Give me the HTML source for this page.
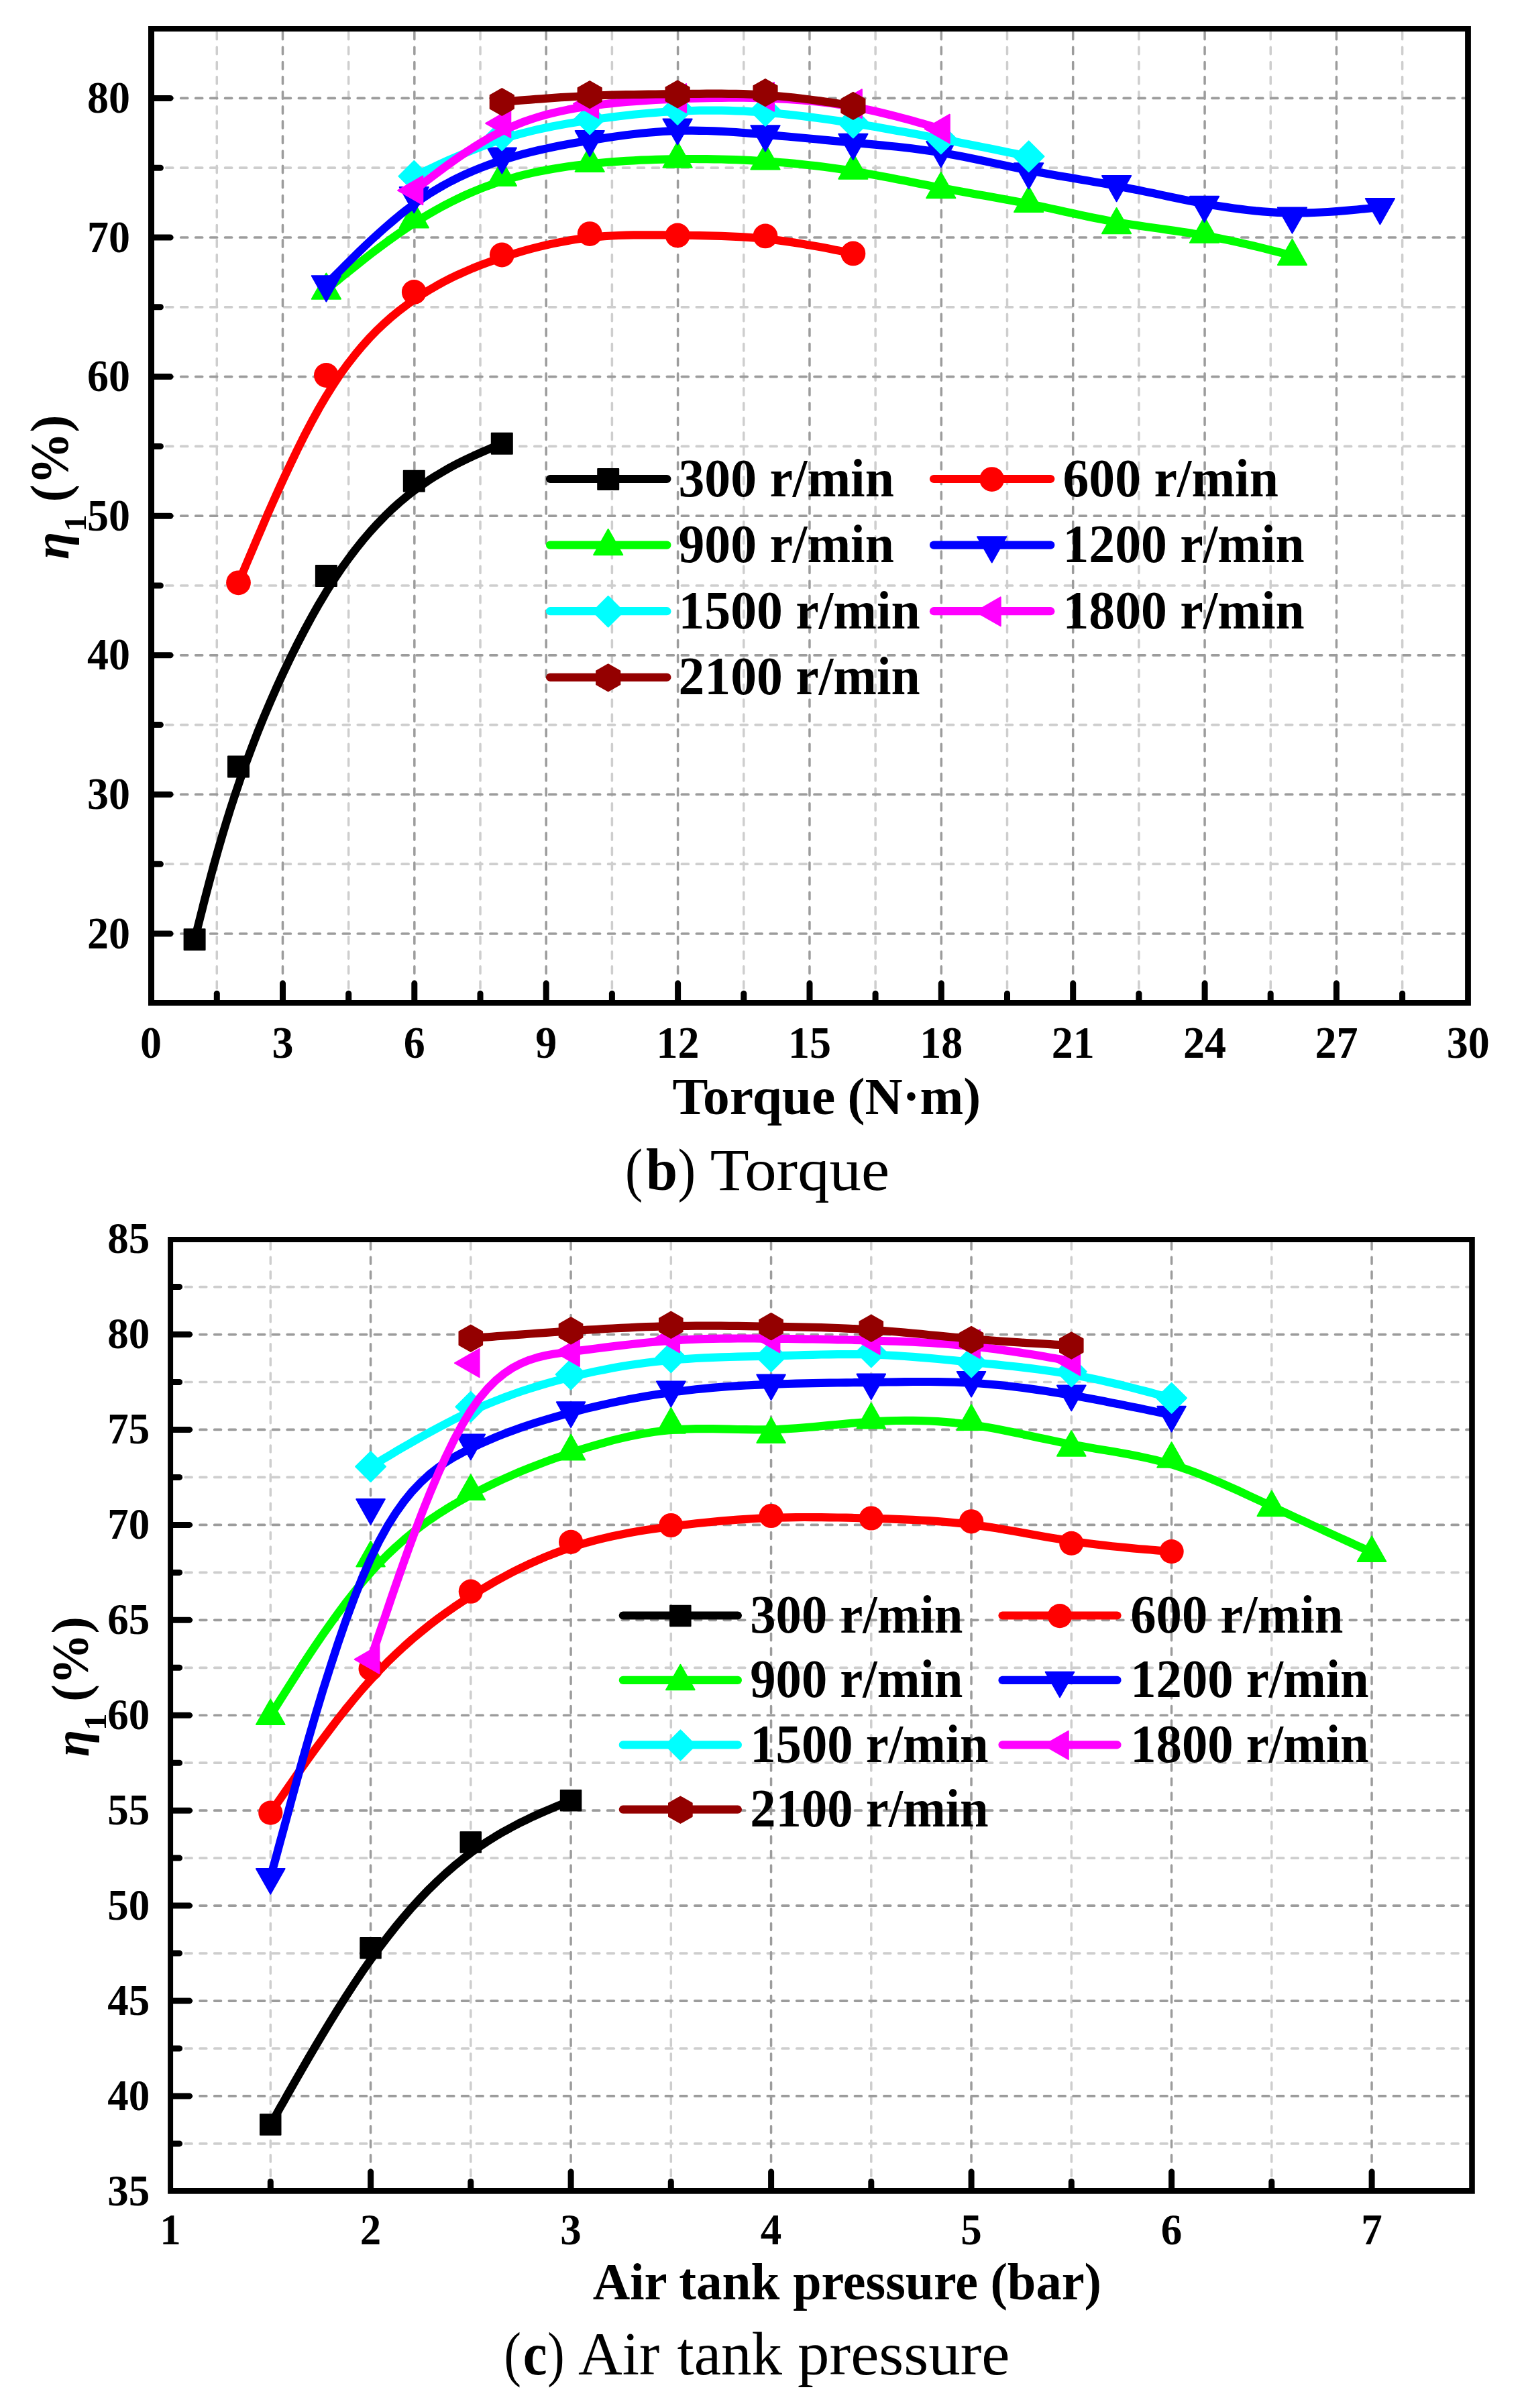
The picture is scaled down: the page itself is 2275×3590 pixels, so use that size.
<!DOCTYPE html>
<html><head><meta charset="utf-8"><title>Figure</title>
<style>
html,body{margin:0;padding:0;background:#fff}
svg{display:block}
text{font-family:"Liberation Serif",serif;fill:#000}
.tk{font-size:64px;font-weight:bold}
.lg{font-size:75px;font-weight:bold}
.ti{font-size:75px;font-weight:bold}
.cp{font-size:87px}
</style></head><body>
<svg width="2275" height="3590" viewBox="0 0 2275 3590">
<rect width="2275" height="3590" fill="#fff"/>
<path d="M225.80,1288.20H2188.80" stroke="#cecece" stroke-width="3.7" stroke-dasharray="10.00 11.96" stroke-linecap="round" fill="none"/>
<path d="M225.80,1080.60H2188.80" stroke="#cecece" stroke-width="3.7" stroke-dasharray="10.00 11.96" stroke-linecap="round" fill="none"/>
<path d="M225.80,873.00H2188.80" stroke="#cecece" stroke-width="3.7" stroke-dasharray="10.00 11.96" stroke-linecap="round" fill="none"/>
<path d="M225.80,665.40H2188.80" stroke="#cecece" stroke-width="3.7" stroke-dasharray="10.00 11.96" stroke-linecap="round" fill="none"/>
<path d="M225.80,457.80H2188.80" stroke="#cecece" stroke-width="3.7" stroke-dasharray="10.00 11.96" stroke-linecap="round" fill="none"/>
<path d="M225.80,250.20H2188.80" stroke="#cecece" stroke-width="3.7" stroke-dasharray="10.00 11.96" stroke-linecap="round" fill="none"/>
<path d="M323.28,1495.50V42.60" stroke="#cecece" stroke-width="3.5" stroke-dasharray="10.500 11.604" stroke-linecap="round" fill="none"/>
<path d="M519.66,1495.50V42.60" stroke="#cecece" stroke-width="3.5" stroke-dasharray="10.500 11.604" stroke-linecap="round" fill="none"/>
<path d="M716.03,1495.50V42.60" stroke="#cecece" stroke-width="3.5" stroke-dasharray="10.500 11.604" stroke-linecap="round" fill="none"/>
<path d="M912.40,1495.50V42.60" stroke="#cecece" stroke-width="3.5" stroke-dasharray="10.500 11.604" stroke-linecap="round" fill="none"/>
<path d="M1108.77,1495.50V42.60" stroke="#cecece" stroke-width="3.5" stroke-dasharray="10.500 11.604" stroke-linecap="round" fill="none"/>
<path d="M1305.13,1495.50V42.60" stroke="#cecece" stroke-width="3.5" stroke-dasharray="10.500 11.604" stroke-linecap="round" fill="none"/>
<path d="M1501.51,1495.50V42.60" stroke="#cecece" stroke-width="3.5" stroke-dasharray="10.500 11.604" stroke-linecap="round" fill="none"/>
<path d="M1697.88,1495.50V42.60" stroke="#cecece" stroke-width="3.5" stroke-dasharray="10.500 11.604" stroke-linecap="round" fill="none"/>
<path d="M1894.25,1495.50V42.60" stroke="#cecece" stroke-width="3.5" stroke-dasharray="10.500 11.604" stroke-linecap="round" fill="none"/>
<path d="M2090.62,1495.50V42.60" stroke="#cecece" stroke-width="3.5" stroke-dasharray="10.500 11.604" stroke-linecap="round" fill="none"/>
<path d="M225.80,1392.00H2188.80" stroke="#9c9c9c" stroke-width="3.7" stroke-dasharray="10.00 11.96" stroke-linecap="round" fill="none"/>
<path d="M225.80,1184.40H2188.80" stroke="#9c9c9c" stroke-width="3.7" stroke-dasharray="10.00 11.96" stroke-linecap="round" fill="none"/>
<path d="M225.80,976.80H2188.80" stroke="#9c9c9c" stroke-width="3.7" stroke-dasharray="10.00 11.96" stroke-linecap="round" fill="none"/>
<path d="M225.80,769.20H2188.80" stroke="#9c9c9c" stroke-width="3.7" stroke-dasharray="10.00 11.96" stroke-linecap="round" fill="none"/>
<path d="M225.80,561.60H2188.80" stroke="#9c9c9c" stroke-width="3.7" stroke-dasharray="10.00 11.96" stroke-linecap="round" fill="none"/>
<path d="M225.80,354.00H2188.80" stroke="#9c9c9c" stroke-width="3.7" stroke-dasharray="10.00 11.96" stroke-linecap="round" fill="none"/>
<path d="M225.80,146.40H2188.80" stroke="#9c9c9c" stroke-width="3.7" stroke-dasharray="10.00 11.96" stroke-linecap="round" fill="none"/>
<path d="M421.47,1495.50V42.60" stroke="#9c9c9c" stroke-width="3.5" stroke-dasharray="10.500 11.604" stroke-linecap="round" fill="none"/>
<path d="M617.84,1495.50V42.60" stroke="#9c9c9c" stroke-width="3.5" stroke-dasharray="10.500 11.604" stroke-linecap="round" fill="none"/>
<path d="M814.21,1495.50V42.60" stroke="#9c9c9c" stroke-width="3.5" stroke-dasharray="10.500 11.604" stroke-linecap="round" fill="none"/>
<path d="M1010.58,1495.50V42.60" stroke="#9c9c9c" stroke-width="3.5" stroke-dasharray="10.500 11.604" stroke-linecap="round" fill="none"/>
<path d="M1206.95,1495.50V42.60" stroke="#9c9c9c" stroke-width="3.5" stroke-dasharray="10.500 11.604" stroke-linecap="round" fill="none"/>
<path d="M1403.32,1495.50V42.60" stroke="#9c9c9c" stroke-width="3.5" stroke-dasharray="10.500 11.604" stroke-linecap="round" fill="none"/>
<path d="M1599.69,1495.50V42.60" stroke="#9c9c9c" stroke-width="3.5" stroke-dasharray="10.500 11.604" stroke-linecap="round" fill="none"/>
<path d="M1796.06,1495.50V42.60" stroke="#9c9c9c" stroke-width="3.5" stroke-dasharray="10.500 11.604" stroke-linecap="round" fill="none"/>
<path d="M1992.43,1495.50V42.60" stroke="#9c9c9c" stroke-width="3.5" stroke-dasharray="10.500 11.604" stroke-linecap="round" fill="none"/>
<path d="M227.1,1392.0H253.9" stroke="#000" stroke-width="9.0" stroke-linecap="round"/>
<path d="M227.1,1184.4H253.9" stroke="#000" stroke-width="9.0" stroke-linecap="round"/>
<path d="M227.1,976.8H253.9" stroke="#000" stroke-width="9.0" stroke-linecap="round"/>
<path d="M227.1,769.2H253.9" stroke="#000" stroke-width="9.0" stroke-linecap="round"/>
<path d="M227.1,561.6H253.9" stroke="#000" stroke-width="9.0" stroke-linecap="round"/>
<path d="M227.1,354.0H253.9" stroke="#000" stroke-width="9.0" stroke-linecap="round"/>
<path d="M227.1,146.4H253.9" stroke="#000" stroke-width="9.0" stroke-linecap="round"/>
<path d="M227.1,1288.2H239.4" stroke="#000" stroke-width="9.0" stroke-linecap="round"/>
<path d="M227.1,1080.6H239.4" stroke="#000" stroke-width="9.0" stroke-linecap="round"/>
<path d="M227.1,873.0H239.4" stroke="#000" stroke-width="9.0" stroke-linecap="round"/>
<path d="M227.1,665.4H239.4" stroke="#000" stroke-width="9.0" stroke-linecap="round"/>
<path d="M227.1,457.8H239.4" stroke="#000" stroke-width="9.0" stroke-linecap="round"/>
<path d="M227.1,250.2H239.4" stroke="#000" stroke-width="9.0" stroke-linecap="round"/>
<path d="M421.5,1493.3V1466.1" stroke="#000" stroke-width="9.0" stroke-linecap="round"/>
<path d="M617.8,1493.3V1466.1" stroke="#000" stroke-width="9.0" stroke-linecap="round"/>
<path d="M814.2,1493.3V1466.1" stroke="#000" stroke-width="9.0" stroke-linecap="round"/>
<path d="M1010.6,1493.3V1466.1" stroke="#000" stroke-width="9.0" stroke-linecap="round"/>
<path d="M1207.0,1493.3V1466.1" stroke="#000" stroke-width="9.0" stroke-linecap="round"/>
<path d="M1403.3,1493.3V1466.1" stroke="#000" stroke-width="9.0" stroke-linecap="round"/>
<path d="M1599.7,1493.3V1466.1" stroke="#000" stroke-width="9.0" stroke-linecap="round"/>
<path d="M1796.1,1493.3V1466.1" stroke="#000" stroke-width="9.0" stroke-linecap="round"/>
<path d="M1992.4,1493.3V1466.1" stroke="#000" stroke-width="9.0" stroke-linecap="round"/>
<path d="M323.3,1493.3V1481.3" stroke="#000" stroke-width="9.0" stroke-linecap="round"/>
<path d="M519.7,1493.3V1481.3" stroke="#000" stroke-width="9.0" stroke-linecap="round"/>
<path d="M716.0,1493.3V1481.3" stroke="#000" stroke-width="9.0" stroke-linecap="round"/>
<path d="M912.4,1493.3V1481.3" stroke="#000" stroke-width="9.0" stroke-linecap="round"/>
<path d="M1108.8,1493.3V1481.3" stroke="#000" stroke-width="9.0" stroke-linecap="round"/>
<path d="M1305.1,1493.3V1481.3" stroke="#000" stroke-width="9.0" stroke-linecap="round"/>
<path d="M1501.5,1493.3V1481.3" stroke="#000" stroke-width="9.0" stroke-linecap="round"/>
<path d="M1697.9,1493.3V1481.3" stroke="#000" stroke-width="9.0" stroke-linecap="round"/>
<path d="M1894.2,1493.3V1481.3" stroke="#000" stroke-width="9.0" stroke-linecap="round"/>
<path d="M2090.6,1493.3V1481.3" stroke="#000" stroke-width="9.0" stroke-linecap="round"/>
<path d="M221.00,38.90H2192.90V1499.60H221.00Z M230.00,46.90H2184.10V1491.00H230.00Z" fill="#000" fill-rule="evenodd"/>
<text transform="translate(225.1,1577.0) scale(1.000,1.060)" class="tk" text-anchor="middle">0</text>
<text transform="translate(421.5,1577.0) scale(1.000,1.060)" class="tk" text-anchor="middle">3</text>
<text transform="translate(617.8,1577.0) scale(1.000,1.060)" class="tk" text-anchor="middle">6</text>
<text transform="translate(814.2,1577.0) scale(1.000,1.060)" class="tk" text-anchor="middle">9</text>
<text transform="translate(1010.6,1577.0) scale(1.000,1.060)" class="tk" text-anchor="middle">12</text>
<text transform="translate(1207.0,1577.0) scale(1.000,1.060)" class="tk" text-anchor="middle">15</text>
<text transform="translate(1403.3,1577.0) scale(1.000,1.060)" class="tk" text-anchor="middle">18</text>
<text transform="translate(1599.7,1577.0) scale(1.000,1.060)" class="tk" text-anchor="middle">21</text>
<text transform="translate(1796.1,1577.0) scale(1.000,1.060)" class="tk" text-anchor="middle">24</text>
<text transform="translate(1992.4,1577.0) scale(1.000,1.060)" class="tk" text-anchor="middle">27</text>
<text transform="translate(2188.8,1577.0) scale(1.000,1.060)" class="tk" text-anchor="middle">30</text>
<text transform="translate(194.0,1413.6) scale(1.000,1.060)" class="tk" text-anchor="end">20</text>
<text transform="translate(194.0,1206.0) scale(1.000,1.060)" class="tk" text-anchor="end">30</text>
<text transform="translate(194.0,998.4) scale(1.000,1.060)" class="tk" text-anchor="end">40</text>
<text transform="translate(194.0,790.8) scale(1.000,1.060)" class="tk" text-anchor="end">50</text>
<text transform="translate(194.0,583.2) scale(1.000,1.060)" class="tk" text-anchor="end">60</text>
<text transform="translate(194.0,375.6) scale(1.000,1.060)" class="tk" text-anchor="end">70</text>
<text transform="translate(194.0,168.0) scale(1.000,1.060)" class="tk" text-anchor="end">80</text>
<path d="M290.1,1400.7 L290.1,1400.7 L290.1,1400.5 L290.2,1400.0 L290.5,1399.1 L290.8,1397.6 L291.4,1395.3 L292.2,1392.2 L293.3,1388.0 L294.7,1382.6 L296.4,1375.9 L298.5,1367.6 L301.0,1357.7 L303.9,1346.1 L307.3,1332.9 L311.2,1318.1 L315.5,1301.9 L320.3,1284.4 L325.5,1265.9 L331.2,1246.3 L337.3,1225.9 L343.9,1204.8 L351.0,1183.1 L358.5,1160.9 L366.4,1138.5 L374.8,1115.8 L383.6,1093.0 L392.8,1070.3 L402.4,1047.6 L412.2,1025.2 L422.3,1003.1 L432.7,981.4 L443.2,960.2 L453.9,939.6 L464.7,919.7 L475.5,900.6 L486.4,882.3 L497.3,865.1 L508.2,848.8 L519.2,833.5 L530.1,819.0 L541.0,805.4 L551.9,792.6 L562.8,780.7 L573.7,769.4 L584.6,758.9 L595.5,749.1 L606.4,740.0 L617.3,731.5 L628.2,723.6 L639.1,716.2 L649.7,709.4 L660.2,703.2 L670.3,697.4 L680.1,692.2 L689.4,687.5 L698.2,683.2 L706.3,679.4 L713.8,676.1 L720.5,673.1 L726.4,670.6 L731.4,668.4 L735.6,666.7 L739.0,665.2 L741.8,664.0 L743.9,663.1 L745.5,662.4 L746.7,661.9 L747.4,661.6 L747.9,661.4 L748.2,661.3 L748.2,661.3 L748.3,661.2" fill="none" stroke="#000000" stroke-width="12.2" stroke-linecap="round" stroke-linejoin="round"/>
<rect x="274.6" y="1385.2" width="31.0" height="31.0" fill="#000000" stroke="#000000" stroke-width="2" stroke-linejoin="round"/>
<rect x="340.0" y="1127.4" width="31.0" height="31.0" fill="#000000" stroke="#000000" stroke-width="2" stroke-linejoin="round"/>
<rect x="470.9" y="843.0" width="31.0" height="31.0" fill="#000000" stroke="#000000" stroke-width="2" stroke-linejoin="round"/>
<rect x="601.8" y="701.8" width="31.0" height="31.0" fill="#000000" stroke="#000000" stroke-width="2" stroke-linejoin="round"/>
<rect x="732.8" y="645.7" width="31.0" height="31.0" fill="#000000" stroke="#000000" stroke-width="2" stroke-linejoin="round"/>
<path d="M355.5,868.8 L355.5,868.8 L355.6,868.6 L355.9,868.0 L356.3,866.9 L357.1,865.1 L358.2,862.4 L359.8,858.6 L362.0,853.6 L364.7,847.1 L368.1,839.0 L372.3,829.1 L377.3,817.3 L383.2,803.4 L390.0,787.6 L397.4,770.2 L405.6,751.6 L414.4,732.0 L423.7,711.6 L433.5,690.8 L443.6,669.9 L454.0,649.1 L464.7,628.7 L475.5,609.0 L486.4,590.4 L497.3,573.0 L508.2,556.7 L519.2,541.7 L530.1,527.7 L541.0,514.8 L551.9,502.7 L562.8,491.6 L573.7,481.3 L584.6,471.7 L595.5,462.8 L606.4,454.6 L617.3,446.8 L628.2,439.6 L639.2,432.8 L650.1,426.4 L661.0,420.4 L671.9,414.8 L682.8,409.6 L693.7,404.7 L704.6,400.0 L715.5,395.7 L726.4,391.6 L737.3,387.7 L748.3,384.0 L759.2,380.4 L770.1,377.1 L781.0,373.9 L791.9,370.9 L802.8,368.1 L813.7,365.5 L824.6,363.1 L835.5,360.9 L846.4,358.9 L857.3,357.1 L868.3,355.5 L879.2,354.2 L890.1,353.1 L901.0,352.2 L911.9,351.5 L922.8,351.0 L933.7,350.7 L944.6,350.4 L955.5,350.3 L966.4,350.3 L977.4,350.3 L988.3,350.4 L999.2,350.5 L1010.1,350.7 L1021.0,350.8 L1031.9,351.0 L1042.8,351.1 L1053.7,351.3 L1064.6,351.6 L1075.5,351.9 L1086.4,352.3 L1097.4,352.8 L1108.3,353.4 L1119.2,354.2 L1130.1,355.0 L1141.0,356.1 L1151.9,357.3 L1162.7,358.6 L1173.4,360.1 L1183.8,361.6 L1194.0,363.2 L1203.7,364.9 L1213.0,366.5 L1221.8,368.1 L1230.0,369.6 L1237.5,371.1 L1244.2,372.4 L1250.1,373.5 L1255.1,374.5 L1259.3,375.4 L1262.7,376.0 L1265.4,376.6 L1267.6,377.0 L1269.2,377.3 L1270.3,377.6 L1271.1,377.7 L1271.6,377.8 L1271.8,377.9 L1271.9,377.9 L1271.9,377.9" fill="none" stroke="#ff0000" stroke-width="12.2" stroke-linecap="round" stroke-linejoin="round"/>
<circle cx="355.5" cy="868.8" r="18.4" fill="#ff0000"/>
<circle cx="486.4" cy="559.5" r="18.4" fill="#ff0000"/>
<circle cx="617.3" cy="435.4" r="18.4" fill="#ff0000"/>
<circle cx="748.3" cy="380.0" r="18.4" fill="#ff0000"/>
<circle cx="879.2" cy="348.6" r="18.4" fill="#ff0000"/>
<circle cx="1010.1" cy="350.9" r="18.4" fill="#ff0000"/>
<circle cx="1141.0" cy="351.9" r="18.4" fill="#ff0000"/>
<circle cx="1271.9" cy="377.9" r="18.4" fill="#ff0000"/>
<path d="M486.4,431.8 L486.4,431.8 L486.5,431.8 L486.8,431.6 L487.2,431.2 L488.0,430.6 L489.2,429.6 L490.8,428.3 L492.9,426.6 L495.6,424.4 L499.1,421.6 L503.2,418.2 L508.2,414.1 L514.1,409.3 L520.9,403.9 L528.4,397.9 L536.5,391.4 L545.3,384.5 L554.6,377.3 L564.4,369.9 L574.5,362.4 L585.0,354.8 L595.6,347.3 L606.4,339.9 L617.3,332.7 L628.2,325.8 L639.2,319.3 L650.1,313.0 L661.0,307.0 L671.9,301.4 L682.8,296.0 L693.7,290.9 L704.6,286.1 L715.5,281.6 L726.4,277.4 L737.3,273.5 L748.3,269.9 L759.2,266.6 L770.1,263.5 L781.0,260.7 L791.9,258.1 L802.8,255.8 L813.7,253.7 L824.6,251.7 L835.5,249.9 L846.4,248.3 L857.3,246.9 L868.3,245.6 L879.2,244.4 L890.1,243.3 L901.0,242.3 L911.9,241.4 L922.8,240.6 L933.7,239.9 L944.6,239.3 L955.5,238.7 L966.4,238.3 L977.4,237.9 L988.3,237.6 L999.2,237.4 L1010.1,237.2 L1021.0,237.1 L1031.9,237.0 L1042.8,237.1 L1053.7,237.2 L1064.6,237.3 L1075.5,237.5 L1086.4,237.8 L1097.4,238.2 L1108.3,238.7 L1119.2,239.2 L1130.1,239.8 L1141.0,240.4 L1151.9,241.2 L1162.8,242.0 L1173.7,242.9 L1184.6,243.9 L1195.5,245.0 L1206.5,246.2 L1217.4,247.4 L1228.3,248.8 L1239.2,250.2 L1250.1,251.7 L1261.0,253.4 L1271.9,255.1 L1282.8,256.9 L1293.7,258.9 L1304.6,260.9 L1315.5,262.9 L1326.5,265.0 L1337.4,267.2 L1348.3,269.3 L1359.2,271.5 L1370.1,273.7 L1381.0,275.8 L1391.9,277.9 L1402.8,280.0 L1413.7,282.1 L1424.6,284.0 L1435.5,286.0 L1446.5,287.9 L1457.4,289.9 L1468.3,291.8 L1479.2,293.7 L1490.1,295.7 L1501.0,297.7 L1511.9,299.7 L1522.8,301.8 L1533.7,304.0 L1544.6,306.2 L1555.6,308.5 L1566.5,310.9 L1577.4,313.3 L1588.3,315.7 L1599.2,318.0 L1610.1,320.4 L1621.0,322.7 L1631.9,324.9 L1642.8,327.1 L1653.7,329.2 L1664.6,331.2 L1675.6,333.0 L1686.5,334.7 L1697.4,336.4 L1708.3,338.0 L1719.2,339.5 L1730.1,341.0 L1741.0,342.6 L1751.9,344.1 L1762.8,345.7 L1773.7,347.4 L1784.7,349.2 L1795.6,351.1 L1806.5,353.1 L1817.3,355.2 L1827.9,357.4 L1838.4,359.6 L1848.5,361.9 L1858.3,364.1 L1867.6,366.3 L1876.4,368.4 L1884.5,370.4 L1892.0,372.3 L1898.8,374.0 L1904.7,375.5 L1909.7,376.7 L1913.8,377.8 L1917.3,378.7 L1920.0,379.3 L1922.1,379.9 L1923.7,380.3 L1924.9,380.6 L1925.7,380.8 L1926.1,380.9 L1926.4,381.0 L1926.5,381.0 L1926.5,381.0" fill="none" stroke="#00ff00" stroke-width="12.2" stroke-linecap="round" stroke-linejoin="round"/>
<polygon points="486.4,407.6 464.8,445.8 508.0,445.8" fill="#00ff00" stroke="#00ff00" stroke-width="2" stroke-linejoin="round"/>
<polygon points="617.3,301.2 595.7,339.4 638.9,339.4" fill="#00ff00" stroke="#00ff00" stroke-width="2" stroke-linejoin="round"/>
<polygon points="748.3,238.9 726.7,277.1 769.9,277.1" fill="#00ff00" stroke="#00ff00" stroke-width="2" stroke-linejoin="round"/>
<polygon points="879.2,217.7 857.6,255.9 900.8,255.9" fill="#00ff00" stroke="#00ff00" stroke-width="2" stroke-linejoin="round"/>
<polygon points="1010.1,211.5 988.5,249.7 1031.7,249.7" fill="#00ff00" stroke="#00ff00" stroke-width="2" stroke-linejoin="round"/>
<polygon points="1141.0,214.4 1119.4,252.6 1162.6,252.6" fill="#00ff00" stroke="#00ff00" stroke-width="2" stroke-linejoin="round"/>
<polygon points="1271.9,228.5 1250.3,266.7 1293.5,266.7" fill="#00ff00" stroke="#00ff00" stroke-width="2" stroke-linejoin="round"/>
<polygon points="1402.8,257.1 1381.2,295.3 1424.4,295.3" fill="#00ff00" stroke="#00ff00" stroke-width="2" stroke-linejoin="round"/>
<polygon points="1533.7,277.9 1512.1,316.1 1555.3,316.1" fill="#00ff00" stroke="#00ff00" stroke-width="2" stroke-linejoin="round"/>
<polygon points="1664.6,310.1 1643.0,348.3 1686.2,348.3" fill="#00ff00" stroke="#00ff00" stroke-width="2" stroke-linejoin="round"/>
<polygon points="1795.6,323.6 1774.0,361.8 1817.2,361.8" fill="#00ff00" stroke="#00ff00" stroke-width="2" stroke-linejoin="round"/>
<polygon points="1926.5,356.8 1904.9,395.0 1948.1,395.0" fill="#00ff00" stroke="#00ff00" stroke-width="2" stroke-linejoin="round"/>
<path d="M486.4,424.2 L486.4,424.2 L486.5,424.1 L486.8,423.8 L487.2,423.4 L488.0,422.6 L489.2,421.4 L490.8,419.8 L492.9,417.6 L495.6,414.9 L499.1,411.4 L503.2,407.2 L508.2,402.2 L514.1,396.2 L520.9,389.5 L528.4,382.1 L536.5,374.1 L545.3,365.7 L554.6,356.9 L564.4,348.0 L574.5,339.0 L585.0,330.0 L595.6,321.1 L606.4,312.5 L617.3,304.3 L628.2,296.7 L639.2,289.4 L650.1,282.7 L661.0,276.4 L671.9,270.5 L682.8,265.0 L693.7,259.9 L704.6,255.1 L715.5,250.6 L726.4,246.5 L737.3,242.6 L748.3,239.0 L759.2,235.6 L770.1,232.4 L781.0,229.4 L791.9,226.6 L802.8,224.0 L813.7,221.6 L824.6,219.3 L835.5,217.1 L846.4,215.0 L857.3,213.0 L868.3,211.2 L879.2,209.3 L890.1,207.6 L901.0,205.9 L911.9,204.3 L922.8,202.7 L933.7,201.3 L944.6,200.0 L955.5,198.8 L966.4,197.7 L977.4,196.8 L988.3,196.0 L999.2,195.4 L1010.1,195.0 L1021.0,194.7 L1031.9,194.7 L1042.8,194.8 L1053.7,195.0 L1064.6,195.4 L1075.5,195.9 L1086.4,196.5 L1097.4,197.2 L1108.3,198.0 L1119.2,198.8 L1130.1,199.7 L1141.0,200.7 L1151.9,201.6 L1162.8,202.6 L1173.7,203.5 L1184.6,204.5 L1195.5,205.5 L1206.5,206.5 L1217.4,207.5 L1228.3,208.6 L1239.2,209.6 L1250.1,210.6 L1261.0,211.6 L1271.9,212.6 L1282.8,213.6 L1293.7,214.6 L1304.6,215.6 L1315.5,216.6 L1326.5,217.7 L1337.4,218.8 L1348.3,220.0 L1359.2,221.3 L1370.1,222.7 L1381.0,224.2 L1391.9,225.8 L1402.8,227.5 L1413.7,229.4 L1424.6,231.4 L1435.5,233.5 L1446.5,235.7 L1457.4,238.0 L1468.3,240.3 L1479.2,242.6 L1490.1,245.0 L1501.0,247.3 L1511.9,249.6 L1522.8,251.8 L1533.7,254.0 L1544.6,256.1 L1555.6,258.1 L1566.5,260.0 L1577.4,261.9 L1588.3,263.8 L1599.2,265.6 L1610.1,267.5 L1621.0,269.3 L1631.9,271.2 L1642.8,273.1 L1653.7,275.1 L1664.6,277.1 L1675.6,279.2 L1686.5,281.4 L1697.4,283.6 L1708.3,285.9 L1719.2,288.1 L1730.1,290.4 L1741.0,292.7 L1751.9,295.0 L1762.8,297.2 L1773.7,299.4 L1784.7,301.5 L1795.6,303.5 L1806.5,305.4 L1817.4,307.2 L1828.3,308.9 L1839.2,310.5 L1850.1,311.9 L1861.0,313.2 L1871.9,314.4 L1882.8,315.3 L1893.7,316.1 L1904.7,316.8 L1915.6,317.2 L1926.5,317.4 L1937.4,317.5 L1948.2,317.3 L1958.9,317.0 L1969.3,316.5 L1979.4,316.0 L1989.2,315.4 L1998.5,314.7 L2007.3,313.9 L2015.5,313.2 L2022.9,312.5 L2029.7,311.8 L2035.6,311.2 L2040.6,310.7 L2044.8,310.3 L2048.2,309.9 L2050.9,309.6 L2053.1,309.4 L2054.7,309.2 L2055.8,309.1 L2056.6,309.0 L2057.0,309.0 L2057.3,309.0 L2057.4,309.0 L2057.4,309.0" fill="none" stroke="#0000ff" stroke-width="12.2" stroke-linecap="round" stroke-linejoin="round"/>
<polygon points="486.4,449.4 464.8,411.2 508.0,411.2" fill="#0000ff" stroke="#0000ff" stroke-width="2" stroke-linejoin="round"/>
<polygon points="617.3,317.3 595.7,279.1 638.9,279.1" fill="#0000ff" stroke="#0000ff" stroke-width="2" stroke-linejoin="round"/>
<polygon points="748.3,258.6 726.7,220.4 769.9,220.4" fill="#0000ff" stroke="#0000ff" stroke-width="2" stroke-linejoin="round"/>
<polygon points="879.2,233.3 857.6,195.1 900.8,195.1" fill="#0000ff" stroke="#0000ff" stroke-width="2" stroke-linejoin="round"/>
<polygon points="1010.1,215.6 988.5,177.4 1031.7,177.4" fill="#0000ff" stroke="#0000ff" stroke-width="2" stroke-linejoin="round"/>
<polygon points="1141.0,225.4 1119.4,187.2 1162.6,187.2" fill="#0000ff" stroke="#0000ff" stroke-width="2" stroke-linejoin="round"/>
<polygon points="1271.9,238.0 1250.3,199.8 1293.5,199.8" fill="#0000ff" stroke="#0000ff" stroke-width="2" stroke-linejoin="round"/>
<polygon points="1402.8,249.2 1381.2,211.0 1424.4,211.0" fill="#0000ff" stroke="#0000ff" stroke-width="2" stroke-linejoin="round"/>
<polygon points="1533.7,281.4 1512.1,243.2 1555.3,243.2" fill="#0000ff" stroke="#0000ff" stroke-width="2" stroke-linejoin="round"/>
<polygon points="1664.6,300.3 1643.0,262.1 1686.2,262.1" fill="#0000ff" stroke="#0000ff" stroke-width="2" stroke-linejoin="round"/>
<polygon points="1795.6,331.0 1774.0,292.8 1817.2,292.8" fill="#0000ff" stroke="#0000ff" stroke-width="2" stroke-linejoin="round"/>
<polygon points="1926.5,347.6 1904.9,309.4 1948.1,309.4" fill="#0000ff" stroke="#0000ff" stroke-width="2" stroke-linejoin="round"/>
<polygon points="2057.4,334.2 2035.8,296.0 2079.0,296.0" fill="#0000ff" stroke="#0000ff" stroke-width="2" stroke-linejoin="round"/>
<path d="M617.3,262.7 L617.4,262.7 L617.4,262.6 L617.7,262.5 L618.1,262.3 L618.9,261.9 L620.1,261.4 L621.7,260.6 L623.8,259.6 L626.5,258.3 L630.0,256.7 L634.1,254.8 L639.2,252.4 L645.1,249.7 L651.8,246.6 L659.3,243.1 L667.4,239.4 L676.2,235.6 L685.5,231.5 L695.3,227.4 L705.4,223.3 L715.9,219.2 L726.5,215.2 L737.4,211.3 L748.3,207.6 L759.2,204.2 L770.1,201.0 L781.0,198.1 L791.9,195.4 L802.8,192.8 L813.7,190.5 L824.6,188.2 L835.5,186.2 L846.4,184.3 L857.3,182.4 L868.3,180.7 L879.2,179.1 L890.1,177.5 L901.0,176.0 L911.9,174.6 L922.8,173.3 L933.7,172.0 L944.6,170.8 L955.5,169.7 L966.4,168.7 L977.4,167.8 L988.3,167.0 L999.2,166.4 L1010.1,165.8 L1021.0,165.3 L1031.9,165.0 L1042.8,164.7 L1053.7,164.6 L1064.6,164.6 L1075.5,164.7 L1086.4,164.9 L1097.4,165.3 L1108.3,165.7 L1119.2,166.3 L1130.1,166.9 L1141.0,167.7 L1151.9,168.6 L1162.8,169.5 L1173.7,170.6 L1184.6,171.8 L1195.5,173.0 L1206.5,174.4 L1217.4,175.8 L1228.3,177.3 L1239.2,178.8 L1250.1,180.4 L1261.0,182.1 L1271.9,183.8 L1282.8,185.5 L1293.7,187.3 L1304.6,189.1 L1315.5,191.0 L1326.5,192.9 L1337.4,194.9 L1348.3,196.8 L1359.2,198.8 L1370.1,200.8 L1381.0,202.9 L1391.9,205.0 L1402.8,207.1 L1413.7,209.2 L1424.5,211.3 L1435.2,213.4 L1445.6,215.4 L1455.8,217.4 L1465.5,219.4 L1474.9,221.3 L1483.6,223.0 L1491.8,224.7 L1499.3,226.2 L1506.0,227.6 L1511.9,228.7 L1516.9,229.8 L1521.1,230.6 L1524.5,231.3 L1527.3,231.9 L1529.4,232.3 L1531.0,232.6 L1532.2,232.9 L1532.9,233.0 L1533.4,233.1 L1533.6,233.2 L1533.7,233.2 L1533.7,233.2" fill="none" stroke="#00ffff" stroke-width="12.2" stroke-linecap="round" stroke-linejoin="round"/>
<polygon points="617.3,239.9 640.1,262.7 617.3,285.5 594.5,262.7" fill="#00ffff" stroke="#00ffff" stroke-width="2" stroke-linejoin="round"/>
<polygon points="748.3,178.6 771.1,201.4 748.3,224.2 725.5,201.4" fill="#00ffff" stroke="#00ffff" stroke-width="2" stroke-linejoin="round"/>
<polygon points="879.2,154.7 902.0,177.5 879.2,200.3 856.4,177.5" fill="#00ffff" stroke="#00ffff" stroke-width="2" stroke-linejoin="round"/>
<polygon points="1010.1,140.2 1032.9,163.0 1010.1,185.8 987.3,163.0" fill="#00ffff" stroke="#00ffff" stroke-width="2" stroke-linejoin="round"/>
<polygon points="1141.0,142.3 1163.8,165.1 1141.0,187.9 1118.2,165.1" fill="#00ffff" stroke="#00ffff" stroke-width="2" stroke-linejoin="round"/>
<polygon points="1271.9,159.9 1294.7,182.7 1271.9,205.5 1249.1,182.7" fill="#00ffff" stroke="#00ffff" stroke-width="2" stroke-linejoin="round"/>
<polygon points="1402.8,183.8 1425.6,206.6 1402.8,229.4 1380.0,206.6" fill="#00ffff" stroke="#00ffff" stroke-width="2" stroke-linejoin="round"/>
<polygon points="1533.7,210.4 1556.5,233.2 1533.7,256.0 1510.9,233.2" fill="#00ffff" stroke="#00ffff" stroke-width="2" stroke-linejoin="round"/>
<path d="M617.3,283.8 L617.4,283.8 L617.4,283.8 L617.7,283.6 L618.1,283.2 L618.9,282.6 L620.1,281.7 L621.7,280.5 L623.8,278.9 L626.5,276.8 L630.0,274.2 L634.1,271.0 L639.2,267.2 L645.1,262.7 L651.8,257.6 L659.3,252.0 L667.4,246.0 L676.2,239.7 L685.5,233.2 L695.3,226.6 L705.4,220.0 L715.9,213.5 L726.5,207.2 L737.4,201.2 L748.3,195.6 L759.2,190.5 L770.1,185.8 L781.0,181.5 L791.9,177.7 L802.8,174.3 L813.7,171.1 L824.6,168.4 L835.5,165.9 L846.4,163.6 L857.3,161.6 L868.3,159.8 L879.2,158.2 L890.1,156.7 L901.0,155.3 L911.9,154.1 L922.8,153.0 L933.7,152.0 L944.6,151.1 L955.5,150.3 L966.4,149.6 L977.4,149.0 L988.3,148.4 L999.2,147.9 L1010.1,147.4 L1021.0,147.0 L1031.9,146.7 L1042.8,146.4 L1053.7,146.1 L1064.6,145.9 L1075.5,145.8 L1086.4,145.7 L1097.4,145.7 L1108.3,145.7 L1119.2,145.9 L1130.1,146.1 L1141.0,146.4 L1151.9,146.8 L1162.8,147.3 L1173.7,147.9 L1184.6,148.6 L1195.5,149.4 L1206.5,150.3 L1217.4,151.4 L1228.3,152.7 L1239.2,154.0 L1250.1,155.6 L1261.0,157.3 L1271.9,159.2 L1282.8,161.3 L1293.6,163.5 L1304.3,165.8 L1314.7,168.3 L1324.9,170.7 L1334.6,173.2 L1343.9,175.6 L1352.7,177.9 L1360.9,180.2 L1368.4,182.3 L1375.1,184.2 L1381.0,185.8 L1386.0,187.3 L1390.2,188.5 L1393.6,189.4 L1396.4,190.2 L1398.5,190.8 L1400.1,191.3 L1401.2,191.6 L1402.0,191.8 L1402.5,192.0 L1402.7,192.0 L1402.8,192.1 L1402.8,192.1" fill="none" stroke="#ff00ff" stroke-width="12.2" stroke-linecap="round" stroke-linejoin="round"/>
<polygon points="593.1,283.8 630.3,262.4 630.3,305.2" fill="#ff00ff" stroke="#ff00ff" stroke-width="2" stroke-linejoin="round"/>
<polygon points="724.1,183.8 761.3,162.4 761.3,205.2" fill="#ff00ff" stroke="#ff00ff" stroke-width="2" stroke-linejoin="round"/>
<polygon points="855.0,154.7 892.2,133.3 892.2,176.1" fill="#ff00ff" stroke="#ff00ff" stroke-width="2" stroke-linejoin="round"/>
<polygon points="985.9,146.4 1023.1,125.0 1023.1,167.8" fill="#ff00ff" stroke="#ff00ff" stroke-width="2" stroke-linejoin="round"/>
<polygon points="1116.8,144.3 1154.0,122.9 1154.0,165.7" fill="#ff00ff" stroke="#ff00ff" stroke-width="2" stroke-linejoin="round"/>
<polygon points="1247.7,154.7 1284.9,133.3 1284.9,176.1" fill="#ff00ff" stroke="#ff00ff" stroke-width="2" stroke-linejoin="round"/>
<polygon points="1378.6,192.1 1415.8,170.7 1415.8,213.5" fill="#ff00ff" stroke="#ff00ff" stroke-width="2" stroke-linejoin="round"/>
<path d="M748.3,152.0 L748.3,152.0 L748.4,152.0 L748.6,152.0 L749.1,151.9 L749.8,151.9 L751.0,151.8 L752.6,151.6 L754.7,151.5 L757.5,151.2 L760.9,151.0 L765.1,150.6 L770.1,150.2 L776.0,149.7 L782.7,149.2 L790.2,148.6 L798.4,147.9 L807.1,147.3 L816.4,146.6 L826.2,145.9 L836.3,145.2 L846.8,144.6 L857.4,144.0 L868.3,143.4 L879.2,142.9 L890.1,142.4 L901.0,142.0 L911.9,141.7 L922.8,141.4 L933.7,141.2 L944.6,141.0 L955.5,140.8 L966.4,140.6 L977.4,140.5 L988.3,140.4 L999.2,140.3 L1010.1,140.1 L1021.0,140.0 L1031.9,139.9 L1042.8,139.8 L1053.7,139.7 L1064.6,139.6 L1075.5,139.7 L1086.4,139.8 L1097.4,139.9 L1108.3,140.2 L1119.2,140.6 L1130.1,141.1 L1141.0,141.8 L1151.9,142.6 L1162.7,143.5 L1173.4,144.5 L1183.8,145.6 L1194.0,146.8 L1203.7,148.0 L1213.0,149.2 L1221.8,150.4 L1230.0,151.6 L1237.5,152.6 L1244.2,153.6 L1250.1,154.5 L1255.1,155.3 L1259.3,155.9 L1262.7,156.4 L1265.4,156.8 L1267.6,157.2 L1269.2,157.4 L1270.3,157.6 L1271.1,157.7 L1271.6,157.8 L1271.8,157.8 L1271.9,157.8 L1271.9,157.8" fill="none" stroke="#940000" stroke-width="12.2" stroke-linecap="round" stroke-linejoin="round"/>
<polygon points="748.3,132.0 765.9,142.0 765.9,162.0 748.3,172.0 730.7,162.0 730.7,142.0" fill="#940000" stroke="#940000" stroke-width="2" stroke-linejoin="round"/>
<polygon points="879.2,121.2 896.8,131.2 896.8,151.2 879.2,161.2 861.6,151.2 861.6,131.2" fill="#940000" stroke="#940000" stroke-width="2" stroke-linejoin="round"/>
<polygon points="1010.1,120.4 1027.7,130.4 1027.7,150.4 1010.1,160.4 992.5,150.4 992.5,130.4" fill="#940000" stroke="#940000" stroke-width="2" stroke-linejoin="round"/>
<polygon points="1141.0,118.1 1158.6,128.1 1158.6,148.1 1141.0,158.1 1123.4,148.1 1123.4,128.1" fill="#940000" stroke="#940000" stroke-width="2" stroke-linejoin="round"/>
<polygon points="1271.9,137.8 1289.5,147.8 1289.5,167.8 1271.9,177.8 1254.3,167.8 1254.3,147.8" fill="#940000" stroke="#940000" stroke-width="2" stroke-linejoin="round"/>
<path d="M820.0,714.0H994.4" stroke="#000000" stroke-width="12.2" stroke-linecap="round"/>
<rect x="891.2" y="699.1" width="31.0" height="31.0" fill="#000000" stroke="#000000" stroke-width="2" stroke-linejoin="round"/>
<text transform="translate(1011.5,739.6) scale(1.0355,1.0600)" class="lg">300 r/min</text>
<path d="M1392.0,714.0H1566.3" stroke="#ff0000" stroke-width="12.2" stroke-linecap="round"/>
<circle cx="1478.7" cy="714.6" r="18.4" fill="#ff0000"/>
<text transform="translate(1584.5,739.6) scale(1.0355,1.0600)" class="lg">600 r/min</text>
<path d="M820.0,812.6H994.4" stroke="#00ff00" stroke-width="12.2" stroke-linecap="round"/>
<polygon points="906.7,789.0 885.1,827.2 928.3,827.2" fill="#00ff00" stroke="#00ff00" stroke-width="2" stroke-linejoin="round"/>
<text transform="translate(1011.5,838.2) scale(1.0355,1.0600)" class="lg">900 r/min</text>
<path d="M1392.0,812.6H1566.3" stroke="#0000ff" stroke-width="12.2" stroke-linecap="round"/>
<polygon points="1478.7,838.4 1457.1,800.2 1500.2,800.2" fill="#0000ff" stroke="#0000ff" stroke-width="2" stroke-linejoin="round"/>
<text transform="translate(1584.5,838.2) scale(1.0355,1.0600)" class="lg">1200 r/min</text>
<path d="M820.0,911.2H994.4" stroke="#00ffff" stroke-width="12.2" stroke-linecap="round"/>
<polygon points="906.7,889.0 929.5,911.8 906.7,934.6 883.9,911.8" fill="#00ffff" stroke="#00ffff" stroke-width="2" stroke-linejoin="round"/>
<text transform="translate(1011.5,936.8) scale(1.0355,1.0600)" class="lg">1500 r/min</text>
<path d="M1392.0,911.2H1566.3" stroke="#ff00ff" stroke-width="12.2" stroke-linecap="round"/>
<polygon points="1454.5,911.8 1491.7,890.4 1491.7,933.2" fill="#ff00ff" stroke="#ff00ff" stroke-width="2" stroke-linejoin="round"/>
<text transform="translate(1584.5,936.8) scale(1.0355,1.0600)" class="lg">1800 r/min</text>
<path d="M820.0,1009.8H994.4" stroke="#940000" stroke-width="12.2" stroke-linecap="round"/>
<polygon points="906.7,990.4 924.3,1000.4 924.3,1020.4 906.7,1030.4 889.1,1020.4 889.1,1000.4" fill="#940000" stroke="#940000" stroke-width="2" stroke-linejoin="round"/>
<text transform="translate(1011.5,1035.4) scale(1.0355,1.0600)" class="lg">2100 r/min</text>
<path d="M254.60,3195.93H2194.30" stroke="#cecece" stroke-width="3.7" stroke-dasharray="9.80 11.90" stroke-linecap="round" fill="none"/>
<path d="M254.60,3054.01H2194.30" stroke="#cecece" stroke-width="3.7" stroke-dasharray="9.80 11.90" stroke-linecap="round" fill="none"/>
<path d="M254.60,2912.07H2194.30" stroke="#cecece" stroke-width="3.7" stroke-dasharray="9.80 11.90" stroke-linecap="round" fill="none"/>
<path d="M254.60,2770.14H2194.30" stroke="#cecece" stroke-width="3.7" stroke-dasharray="9.80 11.90" stroke-linecap="round" fill="none"/>
<path d="M254.60,2628.22H2194.30" stroke="#cecece" stroke-width="3.7" stroke-dasharray="9.80 11.90" stroke-linecap="round" fill="none"/>
<path d="M254.60,2486.28H2194.30" stroke="#cecece" stroke-width="3.7" stroke-dasharray="9.80 11.90" stroke-linecap="round" fill="none"/>
<path d="M254.60,2344.36H2194.30" stroke="#cecece" stroke-width="3.7" stroke-dasharray="9.80 11.90" stroke-linecap="round" fill="none"/>
<path d="M254.60,2202.43H2194.30" stroke="#cecece" stroke-width="3.7" stroke-dasharray="9.80 11.90" stroke-linecap="round" fill="none"/>
<path d="M254.60,2060.49H2194.30" stroke="#cecece" stroke-width="3.7" stroke-dasharray="9.80 11.90" stroke-linecap="round" fill="none"/>
<path d="M254.60,1918.56H2194.30" stroke="#cecece" stroke-width="3.7" stroke-dasharray="9.80 11.90" stroke-linecap="round" fill="none"/>
<path d="M403.30,3266.10V1847.60" stroke="#cecece" stroke-width="3.5" stroke-dasharray="10.100 11.490" stroke-linecap="round" fill="none"/>
<path d="M701.80,3266.10V1847.60" stroke="#cecece" stroke-width="3.5" stroke-dasharray="10.100 11.490" stroke-linecap="round" fill="none"/>
<path d="M1000.30,3266.10V1847.60" stroke="#cecece" stroke-width="3.5" stroke-dasharray="10.100 11.490" stroke-linecap="round" fill="none"/>
<path d="M1298.80,3266.10V1847.60" stroke="#cecece" stroke-width="3.5" stroke-dasharray="10.100 11.490" stroke-linecap="round" fill="none"/>
<path d="M1597.30,3266.10V1847.60" stroke="#cecece" stroke-width="3.5" stroke-dasharray="10.100 11.490" stroke-linecap="round" fill="none"/>
<path d="M1895.80,3266.10V1847.60" stroke="#cecece" stroke-width="3.5" stroke-dasharray="10.100 11.490" stroke-linecap="round" fill="none"/>
<path d="M254.60,3124.97H2194.30" stroke="#9c9c9c" stroke-width="3.7" stroke-dasharray="9.80 11.90" stroke-linecap="round" fill="none"/>
<path d="M254.60,2983.04H2194.30" stroke="#9c9c9c" stroke-width="3.7" stroke-dasharray="9.80 11.90" stroke-linecap="round" fill="none"/>
<path d="M254.60,2841.11H2194.30" stroke="#9c9c9c" stroke-width="3.7" stroke-dasharray="9.80 11.90" stroke-linecap="round" fill="none"/>
<path d="M254.60,2699.18H2194.30" stroke="#9c9c9c" stroke-width="3.7" stroke-dasharray="9.80 11.90" stroke-linecap="round" fill="none"/>
<path d="M254.60,2557.25H2194.30" stroke="#9c9c9c" stroke-width="3.7" stroke-dasharray="9.80 11.90" stroke-linecap="round" fill="none"/>
<path d="M254.60,2415.32H2194.30" stroke="#9c9c9c" stroke-width="3.7" stroke-dasharray="9.80 11.90" stroke-linecap="round" fill="none"/>
<path d="M254.60,2273.39H2194.30" stroke="#9c9c9c" stroke-width="3.7" stroke-dasharray="9.80 11.90" stroke-linecap="round" fill="none"/>
<path d="M254.60,2131.46H2194.30" stroke="#9c9c9c" stroke-width="3.7" stroke-dasharray="9.80 11.90" stroke-linecap="round" fill="none"/>
<path d="M254.60,1989.53H2194.30" stroke="#9c9c9c" stroke-width="3.7" stroke-dasharray="9.80 11.90" stroke-linecap="round" fill="none"/>
<path d="M552.55,3266.10V1847.60" stroke="#9c9c9c" stroke-width="3.5" stroke-dasharray="10.100 11.490" stroke-linecap="round" fill="none"/>
<path d="M851.05,3266.10V1847.60" stroke="#9c9c9c" stroke-width="3.5" stroke-dasharray="10.100 11.490" stroke-linecap="round" fill="none"/>
<path d="M1149.55,3266.10V1847.60" stroke="#9c9c9c" stroke-width="3.5" stroke-dasharray="10.100 11.490" stroke-linecap="round" fill="none"/>
<path d="M1448.05,3266.10V1847.60" stroke="#9c9c9c" stroke-width="3.5" stroke-dasharray="10.100 11.490" stroke-linecap="round" fill="none"/>
<path d="M1746.55,3266.10V1847.60" stroke="#9c9c9c" stroke-width="3.5" stroke-dasharray="10.100 11.490" stroke-linecap="round" fill="none"/>
<path d="M2045.05,3266.10V1847.60" stroke="#9c9c9c" stroke-width="3.5" stroke-dasharray="10.100 11.490" stroke-linecap="round" fill="none"/>
<path d="M256.1,3125.0H282.4" stroke="#000" stroke-width="9.0" stroke-linecap="round"/>
<path d="M256.1,2983.0H282.4" stroke="#000" stroke-width="9.0" stroke-linecap="round"/>
<path d="M256.1,2841.1H282.4" stroke="#000" stroke-width="9.0" stroke-linecap="round"/>
<path d="M256.1,2699.2H282.4" stroke="#000" stroke-width="9.0" stroke-linecap="round"/>
<path d="M256.1,2557.2H282.4" stroke="#000" stroke-width="9.0" stroke-linecap="round"/>
<path d="M256.1,2415.3H282.4" stroke="#000" stroke-width="9.0" stroke-linecap="round"/>
<path d="M256.1,2273.4H282.4" stroke="#000" stroke-width="9.0" stroke-linecap="round"/>
<path d="M256.1,2131.5H282.4" stroke="#000" stroke-width="9.0" stroke-linecap="round"/>
<path d="M256.1,1989.5H282.4" stroke="#000" stroke-width="9.0" stroke-linecap="round"/>
<path d="M256.1,3195.9H267.6" stroke="#000" stroke-width="9.0" stroke-linecap="round"/>
<path d="M256.1,3054.0H267.6" stroke="#000" stroke-width="9.0" stroke-linecap="round"/>
<path d="M256.1,2912.1H267.6" stroke="#000" stroke-width="9.0" stroke-linecap="round"/>
<path d="M256.1,2770.1H267.6" stroke="#000" stroke-width="9.0" stroke-linecap="round"/>
<path d="M256.1,2628.2H267.6" stroke="#000" stroke-width="9.0" stroke-linecap="round"/>
<path d="M256.1,2486.3H267.6" stroke="#000" stroke-width="9.0" stroke-linecap="round"/>
<path d="M256.1,2344.4H267.6" stroke="#000" stroke-width="9.0" stroke-linecap="round"/>
<path d="M256.1,2202.4H267.6" stroke="#000" stroke-width="9.0" stroke-linecap="round"/>
<path d="M256.1,2060.5H267.6" stroke="#000" stroke-width="9.0" stroke-linecap="round"/>
<path d="M256.1,1918.6H267.6" stroke="#000" stroke-width="9.0" stroke-linecap="round"/>
<path d="M552.6,3264.4V3238.0" stroke="#000" stroke-width="9.0" stroke-linecap="round"/>
<path d="M851.1,3264.4V3238.0" stroke="#000" stroke-width="9.0" stroke-linecap="round"/>
<path d="M1149.6,3264.4V3238.0" stroke="#000" stroke-width="9.0" stroke-linecap="round"/>
<path d="M1448.1,3264.4V3238.0" stroke="#000" stroke-width="9.0" stroke-linecap="round"/>
<path d="M1746.6,3264.4V3238.0" stroke="#000" stroke-width="9.0" stroke-linecap="round"/>
<path d="M2045.1,3264.4V3238.0" stroke="#000" stroke-width="9.0" stroke-linecap="round"/>
<path d="M403.3,3264.4V3252.5" stroke="#000" stroke-width="9.0" stroke-linecap="round"/>
<path d="M701.8,3264.4V3252.5" stroke="#000" stroke-width="9.0" stroke-linecap="round"/>
<path d="M1000.3,3264.4V3252.5" stroke="#000" stroke-width="9.0" stroke-linecap="round"/>
<path d="M1298.8,3264.4V3252.5" stroke="#000" stroke-width="9.0" stroke-linecap="round"/>
<path d="M1597.3,3264.4V3252.5" stroke="#000" stroke-width="9.0" stroke-linecap="round"/>
<path d="M1895.8,3264.4V3252.5" stroke="#000" stroke-width="9.0" stroke-linecap="round"/>
<path d="M250.10,1844.10H2198.80V3270.70H250.10Z M258.10,1851.90H2190.20V3262.00H258.10Z" fill="#000" fill-rule="evenodd"/>
<text transform="translate(254.1,3346.0) scale(0.985,1.035)" class="tk" text-anchor="middle">1</text>
<text transform="translate(552.6,3346.0) scale(0.985,1.035)" class="tk" text-anchor="middle">2</text>
<text transform="translate(851.1,3346.0) scale(0.985,1.035)" class="tk" text-anchor="middle">3</text>
<text transform="translate(1149.6,3346.0) scale(0.985,1.035)" class="tk" text-anchor="middle">4</text>
<text transform="translate(1448.1,3346.0) scale(0.985,1.035)" class="tk" text-anchor="middle">5</text>
<text transform="translate(1746.6,3346.0) scale(0.985,1.035)" class="tk" text-anchor="middle">6</text>
<text transform="translate(2045.1,3346.0) scale(0.985,1.035)" class="tk" text-anchor="middle">7</text>
<text transform="translate(223.2,3287.6) scale(0.985,1.035)" class="tk" text-anchor="end">35</text>
<text transform="translate(223.2,3145.7) scale(0.985,1.035)" class="tk" text-anchor="end">40</text>
<text transform="translate(223.2,3003.7) scale(0.985,1.035)" class="tk" text-anchor="end">45</text>
<text transform="translate(223.2,2861.8) scale(0.985,1.035)" class="tk" text-anchor="end">50</text>
<text transform="translate(223.2,2719.9) scale(0.985,1.035)" class="tk" text-anchor="end">55</text>
<text transform="translate(223.2,2577.9) scale(0.985,1.035)" class="tk" text-anchor="end">60</text>
<text transform="translate(223.2,2436.0) scale(0.985,1.035)" class="tk" text-anchor="end">65</text>
<text transform="translate(223.2,2294.1) scale(0.985,1.035)" class="tk" text-anchor="end">70</text>
<text transform="translate(223.2,2152.2) scale(0.985,1.035)" class="tk" text-anchor="end">75</text>
<text transform="translate(223.2,2010.2) scale(0.985,1.035)" class="tk" text-anchor="end">80</text>
<text transform="translate(223.2,1868.3) scale(0.985,1.035)" class="tk" text-anchor="end">85</text>
<path d="M403.3,3167.5 L403.3,3167.5 L403.4,3167.3 L403.7,3166.9 L404.2,3165.9 L405.1,3164.4 L406.4,3162.1 L408.2,3158.8 L410.7,3154.5 L413.8,3149.0 L417.7,3142.1 L422.5,3133.7 L428.2,3123.6 L434.9,3111.8 L442.6,3098.3 L451.1,3083.4 L460.4,3067.4 L470.4,3050.4 L481.0,3032.6 L492.2,3014.2 L503.7,2995.5 L515.6,2976.7 L527.8,2958.0 L540.1,2939.6 L552.6,2921.8 L565.0,2904.6 L577.4,2888.2 L589.9,2872.4 L602.3,2857.4 L614.7,2843.1 L627.2,2829.5 L639.6,2816.6 L652.1,2804.4 L664.5,2792.9 L676.9,2782.1 L689.4,2771.9 L701.8,2762.4 L714.2,2753.6 L726.6,2745.4 L738.7,2737.8 L750.6,2730.8 L762.2,2724.5 L773.3,2718.6 L783.9,2713.4 L793.9,2708.6 L803.2,2704.4 L811.8,2700.6 L819.5,2697.4 L826.2,2694.5 L831.9,2692.2 L836.7,2690.2 L840.6,2688.5 L843.7,2687.2 L846.1,2686.2 L847.9,2685.4 L849.3,2684.9 L850.1,2684.5 L850.7,2684.3 L850.9,2684.2 L851.0,2684.1 L851.1,2684.1" fill="none" stroke="#000000" stroke-width="12.2" stroke-linecap="round" stroke-linejoin="round"/>
<rect x="388.0" y="3152.3" width="30.5" height="30.5" fill="#000000" stroke="#000000" stroke-width="2" stroke-linejoin="round"/>
<rect x="537.3" y="2888.9" width="30.5" height="30.5" fill="#000000" stroke="#000000" stroke-width="2" stroke-linejoin="round"/>
<rect x="686.5" y="2731.3" width="30.5" height="30.5" fill="#000000" stroke="#000000" stroke-width="2" stroke-linejoin="round"/>
<rect x="835.8" y="2668.9" width="30.5" height="30.5" fill="#000000" stroke="#000000" stroke-width="2" stroke-linejoin="round"/>
<path d="M403.3,2702.6 L403.3,2702.6 L403.4,2702.4 L403.7,2702.0 L404.2,2701.3 L405.1,2700.0 L406.4,2698.1 L408.2,2695.5 L410.7,2692.0 L413.8,2687.5 L417.7,2681.9 L422.5,2675.0 L428.2,2666.8 L434.9,2657.1 L442.6,2646.1 L451.1,2634.0 L460.4,2621.0 L470.4,2607.1 L481.0,2592.8 L492.2,2578.0 L503.7,2562.9 L515.6,2547.9 L527.8,2533.0 L540.1,2518.4 L552.6,2504.4 L565.0,2491.0 L577.4,2478.2 L589.9,2466.1 L602.3,2454.6 L614.7,2443.6 L627.2,2433.2 L639.6,2423.2 L652.1,2413.7 L664.5,2404.6 L676.9,2395.9 L689.4,2387.6 L701.8,2379.6 L714.2,2371.9 L726.7,2364.4 L739.1,2357.3 L751.6,2350.5 L764.0,2343.9 L776.4,2337.7 L788.9,2331.8 L801.3,2326.2 L813.7,2320.9 L826.2,2316.0 L838.6,2311.4 L851.1,2307.1 L863.5,2303.1 L875.9,2299.5 L888.4,2296.2 L900.8,2293.1 L913.2,2290.3 L925.7,2287.7 L938.1,2285.3 L950.6,2283.1 L963.0,2281.1 L975.4,2279.2 L987.9,2277.5 L1000.3,2275.8 L1012.7,2274.2 L1025.2,2272.7 L1037.6,2271.3 L1050.1,2270.0 L1062.5,2268.7 L1074.9,2267.6 L1087.4,2266.6 L1099.8,2265.6 L1112.2,2264.8 L1124.7,2264.0 L1137.1,2263.4 L1149.6,2262.9 L1162.0,2262.6 L1174.4,2262.3 L1186.9,2262.1 L1199.3,2262.0 L1211.7,2262.1 L1224.2,2262.1 L1236.6,2262.3 L1249.1,2262.5 L1261.5,2262.7 L1273.9,2263.0 L1286.4,2263.4 L1298.8,2263.7 L1311.2,2264.0 L1323.7,2264.4 L1336.1,2264.8 L1348.6,2265.3 L1361.0,2265.8 L1373.4,2266.5 L1385.9,2267.2 L1398.3,2268.1 L1410.7,2269.0 L1423.2,2270.2 L1435.6,2271.4 L1448.1,2272.9 L1460.5,2274.6 L1472.9,2276.4 L1485.4,2278.3 L1497.8,2280.4 L1510.2,2282.6 L1522.7,2284.8 L1535.1,2287.0 L1547.6,2289.2 L1560.0,2291.4 L1572.4,2293.5 L1584.9,2295.6 L1597.3,2297.5 L1609.7,2299.3 L1622.1,2301.0 L1634.2,2302.5 L1646.1,2303.9 L1657.7,2305.2 L1668.8,2306.3 L1679.4,2307.4 L1689.4,2308.3 L1698.7,2309.2 L1707.3,2309.9 L1715.0,2310.5 L1721.7,2311.1 L1727.4,2311.6 L1732.2,2312.0 L1736.1,2312.3 L1739.2,2312.5 L1741.6,2312.7 L1743.4,2312.9 L1744.8,2313.0 L1745.6,2313.1 L1746.2,2313.1 L1746.4,2313.1 L1746.5,2313.1 L1746.6,2313.1" fill="none" stroke="#ff0000" stroke-width="12.2" stroke-linecap="round" stroke-linejoin="round"/>
<circle cx="403.3" cy="2702.6" r="18.1" fill="#ff0000"/>
<circle cx="552.6" cy="2487.7" r="18.1" fill="#ff0000"/>
<circle cx="701.8" cy="2372.7" r="18.1" fill="#ff0000"/>
<circle cx="851.1" cy="2298.9" r="18.1" fill="#ff0000"/>
<circle cx="1000.3" cy="2274.0" r="18.1" fill="#ff0000"/>
<circle cx="1149.6" cy="2260.0" r="18.1" fill="#ff0000"/>
<circle cx="1298.8" cy="2263.5" r="18.1" fill="#ff0000"/>
<circle cx="1448.1" cy="2268.3" r="18.1" fill="#ff0000"/>
<circle cx="1597.3" cy="2300.9" r="18.1" fill="#ff0000"/>
<circle cx="1746.6" cy="2313.1" r="18.1" fill="#ff0000"/>
<path d="M403.3,2557.2 L403.3,2557.2 L403.4,2557.1 L403.7,2556.6 L404.2,2555.8 L405.1,2554.4 L406.4,2552.3 L408.2,2549.5 L410.7,2545.6 L413.8,2540.7 L417.7,2534.5 L422.5,2527.0 L428.2,2518.0 L434.9,2507.4 L442.6,2495.4 L451.1,2482.1 L460.4,2467.9 L470.4,2452.9 L481.0,2437.4 L492.2,2421.5 L503.7,2405.5 L515.6,2389.5 L527.8,2373.9 L540.1,2358.7 L552.6,2344.4 L565.0,2330.9 L577.4,2318.3 L589.9,2306.5 L602.3,2295.5 L614.7,2285.2 L627.2,2275.6 L639.6,2266.6 L652.1,2258.2 L664.5,2250.3 L676.9,2242.8 L689.4,2235.7 L701.8,2228.9 L714.2,2222.4 L726.7,2216.2 L739.1,2210.2 L751.6,2204.5 L764.0,2199.0 L776.4,2193.7 L788.9,2188.7 L801.3,2183.8 L813.7,2179.1 L826.2,2174.6 L838.6,2170.2 L851.1,2166.0 L863.5,2161.9 L875.9,2158.0 L888.4,2154.3 L900.8,2150.8 L913.2,2147.4 L925.7,2144.4 L938.1,2141.5 L950.6,2139.0 L963.0,2136.7 L975.4,2134.8 L987.9,2133.2 L1000.3,2131.9 L1012.7,2131.0 L1025.2,2130.5 L1037.6,2130.2 L1050.1,2130.1 L1062.5,2130.2 L1074.9,2130.4 L1087.4,2130.7 L1099.8,2131.0 L1112.2,2131.2 L1124.7,2131.4 L1137.1,2131.4 L1149.6,2131.2 L1162.0,2130.8 L1174.4,2130.1 L1186.9,2129.3 L1199.3,2128.3 L1211.7,2127.3 L1224.2,2126.1 L1236.6,2124.9 L1249.1,2123.7 L1261.5,2122.6 L1273.9,2121.5 L1286.4,2120.5 L1298.8,2119.6 L1311.2,2118.9 L1323.7,2118.3 L1336.1,2118.0 L1348.6,2117.8 L1361.0,2117.9 L1373.4,2118.1 L1385.9,2118.5 L1398.3,2119.2 L1410.7,2120.1 L1423.2,2121.2 L1435.6,2122.6 L1448.1,2124.2 L1460.5,2126.0 L1472.9,2128.1 L1485.4,2130.3 L1497.8,2132.7 L1510.2,2135.3 L1522.7,2137.9 L1535.1,2140.5 L1547.6,2143.2 L1560.0,2145.8 L1572.4,2148.4 L1584.9,2151.0 L1597.3,2153.4 L1609.7,2155.6 L1622.2,2157.8 L1634.6,2159.9 L1647.1,2161.9 L1659.5,2164.0 L1671.9,2166.2 L1684.4,2168.5 L1696.8,2171.0 L1709.2,2173.6 L1721.7,2176.5 L1734.1,2179.7 L1746.6,2183.3 L1759.0,2187.2 L1771.4,2191.4 L1783.9,2196.0 L1796.3,2200.9 L1808.7,2206.0 L1821.2,2211.3 L1833.6,2216.8 L1846.1,2222.4 L1858.5,2228.2 L1870.9,2234.0 L1883.4,2239.8 L1895.8,2245.7 L1908.2,2251.5 L1920.6,2257.2 L1932.7,2262.9 L1944.6,2268.4 L1956.2,2273.7 L1967.3,2278.8 L1977.9,2283.7 L1987.9,2288.3 L1997.2,2292.5 L2005.8,2296.4 L2013.5,2299.9 L2020.2,2303.0 L2025.9,2305.6 L2030.7,2307.7 L2034.6,2309.5 L2037.7,2310.9 L2040.1,2312.0 L2041.9,2312.9 L2043.3,2313.4 L2044.1,2313.8 L2044.7,2314.1 L2044.9,2314.2 L2045.0,2314.3 L2045.1,2314.3" fill="none" stroke="#00ff00" stroke-width="12.2" stroke-linecap="round" stroke-linejoin="round"/>
<polygon points="403.3,2533.4 382.0,2571.0 424.6,2571.0" fill="#00ff00" stroke="#00ff00" stroke-width="2" stroke-linejoin="round"/>
<polygon points="552.6,2297.8 531.3,2335.4 573.8,2335.4" fill="#00ff00" stroke="#00ff00" stroke-width="2" stroke-linejoin="round"/>
<polygon points="701.8,2198.5 680.5,2236.1 723.1,2236.1" fill="#00ff00" stroke="#00ff00" stroke-width="2" stroke-linejoin="round"/>
<polygon points="851.1,2138.8 829.8,2176.5 872.3,2176.5" fill="#00ff00" stroke="#00ff00" stroke-width="2" stroke-linejoin="round"/>
<polygon points="1000.3,2099.1 979.0,2136.7 1021.6,2136.7" fill="#00ff00" stroke="#00ff00" stroke-width="2" stroke-linejoin="round"/>
<polygon points="1149.6,2113.3 1128.3,2150.9 1170.8,2150.9" fill="#00ff00" stroke="#00ff00" stroke-width="2" stroke-linejoin="round"/>
<polygon points="1298.8,2091.7 1277.5,2129.4 1320.1,2129.4" fill="#00ff00" stroke="#00ff00" stroke-width="2" stroke-linejoin="round"/>
<polygon points="1448.1,2094.3 1426.8,2131.9 1469.3,2131.9" fill="#00ff00" stroke="#00ff00" stroke-width="2" stroke-linejoin="round"/>
<polygon points="1597.3,2133.2 1576.0,2170.8 1618.6,2170.8" fill="#00ff00" stroke="#00ff00" stroke-width="2" stroke-linejoin="round"/>
<polygon points="1746.6,2150.2 1725.3,2187.8 1767.8,2187.8" fill="#00ff00" stroke="#00ff00" stroke-width="2" stroke-linejoin="round"/>
<polygon points="1895.8,2222.6 1874.5,2260.2 1917.1,2260.2" fill="#00ff00" stroke="#00ff00" stroke-width="2" stroke-linejoin="round"/>
<polygon points="2045.1,2290.4 2023.8,2328.1 2066.3,2328.1" fill="#00ff00" stroke="#00ff00" stroke-width="2" stroke-linejoin="round"/>
<path d="M403.3,2798.8 L403.3,2798.8 L403.4,2798.4 L403.7,2797.4 L404.2,2795.4 L405.1,2792.2 L406.4,2787.3 L408.2,2780.6 L410.7,2771.6 L413.8,2760.1 L417.7,2745.7 L422.5,2728.1 L428.2,2707.0 L434.9,2682.2 L442.6,2654.2 L451.1,2623.5 L460.4,2590.8 L470.4,2556.5 L481.0,2521.3 L492.2,2485.8 L503.7,2450.5 L515.6,2416.1 L527.8,2383.1 L540.1,2352.0 L552.6,2323.6 L565.0,2298.1 L577.4,2275.6 L589.9,2255.8 L602.3,2238.4 L614.7,2223.2 L627.2,2210.1 L639.6,2198.6 L652.1,2188.7 L664.5,2180.0 L676.9,2172.4 L689.4,2165.6 L701.8,2159.4 L714.2,2153.5 L726.7,2148.0 L739.1,2142.7 L751.6,2137.7 L764.0,2133.0 L776.4,2128.6 L788.9,2124.3 L801.3,2120.3 L813.7,2116.5 L826.2,2112.9 L838.6,2109.4 L851.1,2106.0 L863.5,2102.8 L875.9,2099.7 L888.4,2096.7 L900.8,2093.9 L913.2,2091.1 L925.7,2088.5 L938.1,2086.1 L950.6,2083.8 L963.0,2081.6 L975.4,2079.5 L987.9,2077.6 L1000.3,2075.8 L1012.7,2074.2 L1025.2,2072.7 L1037.6,2071.3 L1050.1,2070.1 L1062.5,2068.9 L1074.9,2067.9 L1087.4,2067.0 L1099.8,2066.2 L1112.2,2065.5 L1124.7,2064.8 L1137.1,2064.3 L1149.6,2063.8 L1162.0,2063.3 L1174.4,2063.0 L1186.9,2062.6 L1199.3,2062.4 L1211.7,2062.1 L1224.2,2061.9 L1236.6,2061.7 L1249.1,2061.5 L1261.5,2061.4 L1273.9,2061.2 L1286.4,2061.1 L1298.8,2060.9 L1311.2,2060.7 L1323.7,2060.5 L1336.1,2060.3 L1348.6,2060.1 L1361.0,2060.0 L1373.4,2060.0 L1385.9,2060.0 L1398.3,2060.1 L1410.7,2060.3 L1423.2,2060.6 L1435.6,2061.1 L1448.1,2061.7 L1460.5,2062.5 L1472.9,2063.5 L1485.4,2064.6 L1497.8,2065.8 L1510.2,2067.2 L1522.7,2068.7 L1535.1,2070.4 L1547.6,2072.1 L1560.0,2074.0 L1572.4,2076.0 L1584.9,2078.0 L1597.3,2080.1 L1609.7,2082.3 L1622.1,2084.6 L1634.2,2086.8 L1646.1,2089.1 L1657.7,2091.4 L1668.8,2093.6 L1679.4,2095.7 L1689.4,2097.7 L1698.7,2099.6 L1707.3,2101.4 L1715.0,2103.0 L1721.7,2104.4 L1727.4,2105.6 L1732.2,2106.6 L1736.1,2107.4 L1739.2,2108.1 L1741.6,2108.6 L1743.4,2109.0 L1744.8,2109.2 L1745.6,2109.4 L1746.2,2109.5 L1746.4,2109.6 L1746.5,2109.6 L1746.6,2109.6" fill="none" stroke="#0000ff" stroke-width="12.2" stroke-linecap="round" stroke-linejoin="round"/>
<polygon points="403.3,2823.6 382.0,2786.0 424.6,2786.0" fill="#0000ff" stroke="#0000ff" stroke-width="2" stroke-linejoin="round"/>
<polygon points="552.6,2272.7 531.3,2235.0 573.8,2235.0" fill="#0000ff" stroke="#0000ff" stroke-width="2" stroke-linejoin="round"/>
<polygon points="701.8,2176.2 680.5,2138.5 723.1,2138.5" fill="#0000ff" stroke="#0000ff" stroke-width="2" stroke-linejoin="round"/>
<polygon points="851.1,2127.9 829.8,2090.3 872.3,2090.3" fill="#0000ff" stroke="#0000ff" stroke-width="2" stroke-linejoin="round"/>
<polygon points="1000.3,2097.2 979.0,2059.6 1021.6,2059.6" fill="#0000ff" stroke="#0000ff" stroke-width="2" stroke-linejoin="round"/>
<polygon points="1149.6,2087.0 1128.3,2049.4 1170.8,2049.4" fill="#0000ff" stroke="#0000ff" stroke-width="2" stroke-linejoin="round"/>
<polygon points="1298.8,2086.2 1277.5,2048.5 1320.1,2048.5" fill="#0000ff" stroke="#0000ff" stroke-width="2" stroke-linejoin="round"/>
<polygon points="1448.1,2082.5 1426.8,2044.9 1469.3,2044.9" fill="#0000ff" stroke="#0000ff" stroke-width="2" stroke-linejoin="round"/>
<polygon points="1597.3,2103.2 1576.0,2065.6 1618.6,2065.6" fill="#0000ff" stroke="#0000ff" stroke-width="2" stroke-linejoin="round"/>
<polygon points="1746.6,2134.4 1725.3,2096.8 1767.8,2096.8" fill="#0000ff" stroke="#0000ff" stroke-width="2" stroke-linejoin="round"/>
<path d="M552.6,2186.5 L552.6,2186.5 L552.7,2186.5 L552.9,2186.3 L553.5,2186.0 L554.3,2185.5 L555.7,2184.7 L557.5,2183.6 L559.9,2182.1 L563.0,2180.3 L566.9,2177.9 L571.7,2175.1 L577.4,2171.7 L584.1,2167.7 L591.8,2163.1 L600.4,2158.1 L609.7,2152.7 L619.7,2146.9 L630.3,2141.0 L641.4,2134.8 L653.0,2128.6 L664.9,2122.3 L677.0,2116.1 L689.4,2110.1 L701.8,2104.2 L714.2,2098.6 L726.7,2093.3 L739.1,2088.3 L751.6,2083.5 L764.0,2078.9 L776.4,2074.6 L788.9,2070.5 L801.3,2066.6 L813.7,2062.9 L826.2,2059.4 L838.6,2056.1 L851.1,2052.9 L863.5,2049.9 L875.9,2047.1 L888.4,2044.4 L900.8,2041.9 L913.2,2039.5 L925.7,2037.3 L938.1,2035.3 L950.6,2033.5 L963.0,2031.8 L975.4,2030.2 L987.9,2028.9 L1000.3,2027.7 L1012.7,2026.6 L1025.2,2025.8 L1037.6,2025.0 L1050.1,2024.4 L1062.5,2023.9 L1074.9,2023.4 L1087.4,2023.0 L1099.8,2022.7 L1112.2,2022.4 L1124.7,2022.1 L1137.1,2021.9 L1149.6,2021.6 L1162.0,2021.2 L1174.4,2020.9 L1186.9,2020.5 L1199.3,2020.1 L1211.7,2019.8 L1224.2,2019.5 L1236.6,2019.3 L1249.1,2019.1 L1261.5,2019.1 L1273.9,2019.1 L1286.4,2019.2 L1298.8,2019.5 L1311.2,2020.0 L1323.7,2020.5 L1336.1,2021.2 L1348.6,2022.0 L1361.0,2022.9 L1373.4,2023.9 L1385.9,2024.9 L1398.3,2026.0 L1410.7,2027.2 L1423.2,2028.4 L1435.6,2029.6 L1448.1,2030.8 L1460.5,2032.0 L1472.9,2033.2 L1485.4,2034.4 L1497.8,2035.7 L1510.2,2037.0 L1522.7,2038.4 L1535.1,2039.9 L1547.6,2041.5 L1560.0,2043.2 L1572.4,2045.0 L1584.9,2047.0 L1597.3,2049.1 L1609.7,2051.4 L1622.1,2053.9 L1634.2,2056.4 L1646.1,2059.1 L1657.7,2061.7 L1668.8,2064.3 L1679.4,2066.9 L1689.4,2069.4 L1698.7,2071.8 L1707.3,2074.0 L1715.0,2076.0 L1721.7,2077.8 L1727.4,2079.3 L1732.2,2080.5 L1736.1,2081.6 L1739.2,2082.4 L1741.6,2083.0 L1743.4,2083.5 L1744.8,2083.9 L1745.6,2084.1 L1746.2,2084.2 L1746.4,2084.3 L1746.5,2084.3 L1746.6,2084.3" fill="none" stroke="#00ffff" stroke-width="12.2" stroke-linecap="round" stroke-linejoin="round"/>
<polygon points="552.6,2164.1 575.0,2186.5 552.6,2209.0 530.1,2186.5" fill="#00ffff" stroke="#00ffff" stroke-width="2" stroke-linejoin="round"/>
<polygon points="701.8,2074.9 724.3,2097.4 701.8,2119.9 679.3,2097.4" fill="#00ffff" stroke="#00ffff" stroke-width="2" stroke-linejoin="round"/>
<polygon points="851.1,2026.7 873.5,2049.1 851.1,2071.6 828.6,2049.1" fill="#00ffff" stroke="#00ffff" stroke-width="2" stroke-linejoin="round"/>
<polygon points="1000.3,2001.1 1022.8,2023.6 1000.3,2046.1 977.8,2023.6" fill="#00ffff" stroke="#00ffff" stroke-width="2" stroke-linejoin="round"/>
<polygon points="1149.6,2000.0 1172.0,2022.5 1149.6,2044.9 1127.1,2022.5" fill="#00ffff" stroke="#00ffff" stroke-width="2" stroke-linejoin="round"/>
<polygon points="1298.8,1993.5 1321.3,2015.9 1298.8,2038.4 1276.3,2015.9" fill="#00ffff" stroke="#00ffff" stroke-width="2" stroke-linejoin="round"/>
<polygon points="1448.1,2008.5 1470.5,2031.0 1448.1,2053.4 1425.6,2031.0" fill="#00ffff" stroke="#00ffff" stroke-width="2" stroke-linejoin="round"/>
<polygon points="1597.3,2022.4 1619.8,2044.9 1597.3,2067.3 1574.8,2044.9" fill="#00ffff" stroke="#00ffff" stroke-width="2" stroke-linejoin="round"/>
<polygon points="1746.6,2061.9 1769.0,2084.3 1746.6,2106.8 1724.1,2084.3" fill="#00ffff" stroke="#00ffff" stroke-width="2" stroke-linejoin="round"/>
<path d="M552.6,2473.8 L552.6,2473.8 L552.7,2473.5 L552.9,2472.6 L553.5,2471.1 L554.3,2468.5 L555.7,2464.6 L557.5,2459.2 L559.9,2452.0 L563.0,2442.7 L566.9,2431.2 L571.7,2417.1 L577.4,2400.2 L584.1,2380.3 L591.8,2357.9 L600.4,2333.4 L609.7,2307.4 L619.7,2280.3 L630.3,2252.6 L641.4,2224.9 L653.0,2197.6 L664.9,2171.3 L677.0,2146.4 L689.4,2123.5 L701.8,2103.0 L714.2,2085.4 L726.7,2070.4 L739.1,2058.0 L751.6,2047.7 L764.0,2039.4 L776.4,2032.8 L788.9,2027.7 L801.3,2023.7 L813.7,2020.8 L826.2,2018.5 L838.6,2016.7 L851.1,2015.2 L863.5,2013.6 L875.9,2012.1 L888.4,2010.5 L900.8,2008.9 L913.2,2007.4 L925.7,2005.9 L938.1,2004.5 L950.6,2003.1 L963.0,2001.8 L975.4,2000.7 L987.9,1999.6 L1000.3,1998.7 L1012.7,1997.9 L1025.2,1997.2 L1037.6,1996.7 L1050.1,1996.2 L1062.5,1995.9 L1074.9,1995.7 L1087.4,1995.6 L1099.8,1995.5 L1112.2,1995.5 L1124.7,1995.5 L1137.1,1995.6 L1149.6,1995.7 L1162.0,1995.8 L1174.4,1996.0 L1186.9,1996.1 L1199.3,1996.3 L1211.7,1996.5 L1224.2,1996.7 L1236.6,1997.0 L1249.1,1997.3 L1261.5,1997.5 L1273.9,1997.8 L1286.4,1998.2 L1298.8,1998.5 L1311.2,1998.9 L1323.7,1999.3 L1336.1,1999.7 L1348.6,2000.2 L1361.0,2000.7 L1373.4,2001.4 L1385.9,2002.0 L1398.3,2002.8 L1410.7,2003.7 L1423.2,2004.7 L1435.6,2005.8 L1448.1,2007.0 L1460.5,2008.4 L1472.8,2009.9 L1485.0,2011.4 L1496.9,2013.1 L1508.4,2014.7 L1519.6,2016.4 L1530.2,2018.0 L1540.2,2019.6 L1549.5,2021.1 L1558.0,2022.6 L1565.7,2023.9 L1572.4,2025.0 L1578.1,2026.0 L1582.9,2026.8 L1586.8,2027.5 L1589.9,2028.0 L1592.4,2028.4 L1594.2,2028.7 L1595.5,2029.0 L1596.4,2029.1 L1596.9,2029.2 L1597.2,2029.3 L1597.3,2029.3 L1597.3,2029.3" fill="none" stroke="#ff00ff" stroke-width="12.2" stroke-linecap="round" stroke-linejoin="round"/>
<polygon points="528.7,2473.8 565.4,2452.7 565.4,2494.9" fill="#ff00ff" stroke="#ff00ff" stroke-width="2" stroke-linejoin="round"/>
<polygon points="678.0,2032.1 714.6,2011.0 714.6,2053.2" fill="#ff00ff" stroke="#ff00ff" stroke-width="2" stroke-linejoin="round"/>
<polygon points="827.2,2015.9 863.9,1994.8 863.9,2037.0" fill="#ff00ff" stroke="#ff00ff" stroke-width="2" stroke-linejoin="round"/>
<polygon points="976.5,1995.2 1013.1,1974.1 1013.1,2016.3" fill="#ff00ff" stroke="#ff00ff" stroke-width="2" stroke-linejoin="round"/>
<polygon points="1125.7,1995.2 1162.4,1974.1 1162.4,2016.3" fill="#ff00ff" stroke="#ff00ff" stroke-width="2" stroke-linejoin="round"/>
<polygon points="1275.0,1998.0 1311.6,1977.0 1311.6,2019.1" fill="#ff00ff" stroke="#ff00ff" stroke-width="2" stroke-linejoin="round"/>
<polygon points="1424.2,2003.7 1460.9,1982.6 1460.9,2024.8" fill="#ff00ff" stroke="#ff00ff" stroke-width="2" stroke-linejoin="round"/>
<polygon points="1573.5,2029.3 1610.1,2008.2 1610.1,2050.3" fill="#ff00ff" stroke="#ff00ff" stroke-width="2" stroke-linejoin="round"/>
<path d="M701.8,1995.2 L701.8,1995.2 L701.9,1995.2 L702.2,1995.2 L702.7,1995.1 L703.6,1995.1 L704.9,1995.0 L706.7,1994.8 L709.2,1994.6 L712.3,1994.4 L716.2,1994.1 L721.0,1993.7 L726.7,1993.3 L733.4,1992.8 L741.1,1992.2 L749.6,1991.6 L758.9,1990.9 L768.9,1990.1 L779.5,1989.4 L790.7,1988.5 L802.2,1987.7 L814.1,1986.9 L826.3,1986.0 L838.6,1985.2 L851.1,1984.3 L863.5,1983.5 L875.9,1982.7 L888.4,1982.0 L900.8,1981.2 L913.2,1980.5 L925.7,1979.9 L938.1,1979.3 L950.6,1978.7 L963.0,1978.2 L975.4,1977.8 L987.9,1977.4 L1000.3,1977.1 L1012.7,1976.9 L1025.2,1976.8 L1037.6,1976.7 L1050.1,1976.6 L1062.5,1976.6 L1074.9,1976.7 L1087.4,1976.8 L1099.8,1976.9 L1112.2,1977.1 L1124.7,1977.3 L1137.1,1977.5 L1149.6,1977.7 L1162.0,1977.9 L1174.4,1978.1 L1186.9,1978.3 L1199.3,1978.6 L1211.7,1978.9 L1224.2,1979.2 L1236.6,1979.6 L1249.1,1980.0 L1261.5,1980.6 L1273.9,1981.2 L1286.4,1981.8 L1298.8,1982.6 L1311.2,1983.5 L1323.7,1984.5 L1336.1,1985.5 L1348.6,1986.6 L1361.0,1987.8 L1373.4,1988.9 L1385.9,1990.2 L1398.3,1991.4 L1410.7,1992.6 L1423.2,1993.8 L1435.6,1994.9 L1448.1,1996.0 L1460.5,1997.1 L1472.8,1998.0 L1485.0,1999.0 L1496.9,1999.8 L1508.4,2000.6 L1519.6,2001.4 L1530.2,2002.1 L1540.2,2002.7 L1549.5,2003.2 L1558.0,2003.7 L1565.7,2004.2 L1572.4,2004.6 L1578.1,2004.9 L1582.9,2005.2 L1586.8,2005.4 L1589.9,2005.6 L1592.4,2005.7 L1594.2,2005.8 L1595.5,2005.9 L1596.4,2005.9 L1596.9,2006.0 L1597.2,2006.0 L1597.3,2006.0 L1597.3,2006.0" fill="none" stroke="#940000" stroke-width="12.2" stroke-linecap="round" stroke-linejoin="round"/>
<polygon points="701.8,1975.5 719.1,1985.4 719.1,2005.1 701.8,2014.9 684.5,2005.1 684.5,1985.4" fill="#940000" stroke="#940000" stroke-width="2" stroke-linejoin="round"/>
<polygon points="851.1,1964.2 868.4,1974.0 868.4,1993.7 851.1,2003.6 833.7,1993.7 833.7,1974.0" fill="#940000" stroke="#940000" stroke-width="2" stroke-linejoin="round"/>
<polygon points="1000.3,1955.6 1017.6,1965.5 1017.6,1985.2 1000.3,1995.0 983.0,1985.2 983.0,1965.5" fill="#940000" stroke="#940000" stroke-width="2" stroke-linejoin="round"/>
<polygon points="1149.6,1957.9 1166.9,1967.8 1166.9,1987.5 1149.6,1997.3 1132.2,1987.5 1132.2,1967.8" fill="#940000" stroke="#940000" stroke-width="2" stroke-linejoin="round"/>
<polygon points="1298.8,1960.5 1316.1,1970.3 1316.1,1990.0 1298.8,1999.9 1281.5,1990.0 1281.5,1970.3" fill="#940000" stroke="#940000" stroke-width="2" stroke-linejoin="round"/>
<polygon points="1448.1,1977.8 1465.4,1987.6 1465.4,2007.3 1448.1,2017.2 1430.7,2007.3 1430.7,1987.6" fill="#940000" stroke="#940000" stroke-width="2" stroke-linejoin="round"/>
<polygon points="1597.3,1986.3 1614.6,1996.1 1614.6,2015.8 1597.3,2025.7 1580.0,2015.8 1580.0,1996.1" fill="#940000" stroke="#940000" stroke-width="2" stroke-linejoin="round"/>
<path d="M928.8,2408.5H1099.9" stroke="#000000" stroke-width="12.2" stroke-linecap="round"/>
<rect x="999.1" y="2393.8" width="30.5" height="30.5" fill="#000000" stroke="#000000" stroke-width="2" stroke-linejoin="round"/>
<text transform="translate(1118.3,2433.8) scale(1.0217,1.0650)" class="lg">300 r/min</text>
<path d="M1494.5,2408.5H1665.5" stroke="#ff0000" stroke-width="12.2" stroke-linecap="round"/>
<circle cx="1580.0" cy="2409.1" r="18.1" fill="#ff0000"/>
<text transform="translate(1685.3,2433.8) scale(1.0217,1.0650)" class="lg">600 r/min</text>
<path d="M928.8,2504.9H1099.9" stroke="#00ff00" stroke-width="12.2" stroke-linecap="round"/>
<polygon points="1014.4,2481.7 993.1,2519.3 1035.6,2519.3" fill="#00ff00" stroke="#00ff00" stroke-width="2" stroke-linejoin="round"/>
<text transform="translate(1118.3,2530.2) scale(1.0217,1.0650)" class="lg">900 r/min</text>
<path d="M1494.5,2504.9H1665.5" stroke="#0000ff" stroke-width="12.2" stroke-linecap="round"/>
<polygon points="1580.0,2530.3 1558.7,2492.7 1601.3,2492.7" fill="#0000ff" stroke="#0000ff" stroke-width="2" stroke-linejoin="round"/>
<text transform="translate(1685.3,2530.2) scale(1.0217,1.0650)" class="lg">1200 r/min</text>
<path d="M928.8,2601.3H1099.9" stroke="#00ffff" stroke-width="12.2" stroke-linecap="round"/>
<polygon points="1014.4,2579.4 1036.8,2601.9 1014.4,2624.4 991.9,2601.9" fill="#00ffff" stroke="#00ffff" stroke-width="2" stroke-linejoin="round"/>
<text transform="translate(1118.3,2626.6) scale(1.0217,1.0650)" class="lg">1500 r/min</text>
<path d="M1494.5,2601.3H1665.5" stroke="#ff00ff" stroke-width="12.2" stroke-linecap="round"/>
<polygon points="1556.2,2601.9 1592.8,2580.8 1592.8,2623.0" fill="#ff00ff" stroke="#ff00ff" stroke-width="2" stroke-linejoin="round"/>
<text transform="translate(1685.3,2626.6) scale(1.0217,1.0650)" class="lg">1800 r/min</text>
<path d="M928.8,2697.7H1099.9" stroke="#940000" stroke-width="12.2" stroke-linecap="round"/>
<polygon points="1014.4,2678.6 1031.7,2688.4 1031.7,2708.1 1014.4,2718.0 997.0,2708.1 997.0,2688.4" fill="#940000" stroke="#940000" stroke-width="2" stroke-linejoin="round"/>
<text transform="translate(1118.3,2723.0) scale(1.0217,1.0650)" class="lg">2100 r/min</text>
<text transform="translate(101.7,834.0) rotate(-90) scale(1.000)" class="ti" font-style="italic">η</text><text transform="translate(127.7,793.0) rotate(-90) scale(1.120,1.000)" class="ti" style="font-size:47px">1</text><text transform="translate(100.7,748.5) rotate(-90) scale(0.975,1.000)" class="ti" style="font-size:80px">(%)</text>
<text transform="translate(132.0,2619.0) rotate(-90) scale(0.975)" class="ti" font-style="italic">η</text><text transform="translate(158.3,2580.0) rotate(-90) scale(1.092,0.975)" class="ti" style="font-size:47px">1</text><text transform="translate(131.0,2536.8) rotate(-90) scale(0.951,0.975)" class="ti" style="font-size:80px">(%)</text>
<text transform="translate(1002.43,1660.80) scale(1.0591,1.0370)" style="font-size:75px;font-weight:bold;font-style:normal">Torque</text>
<text transform="translate(1263.53,1660.80) scale(1.0364,1.0370)" style="font-size:75px;font-weight:bold;font-style:normal">(N·m)</text>
<text transform="translate(883.63,3427.60) scale(1.0264,1.0300)" style="font-size:75px;font-weight:bold;font-style:normal">Air</text>
<text transform="translate(1012.31,3427.60) scale(1.0291,1.0300)" style="font-size:75px;font-weight:bold;font-style:normal">tank</text>
<text transform="translate(1182.19,3427.60) scale(1.0136,1.0300)" style="font-size:75px;font-weight:bold;font-style:normal">pressure</text>
<text transform="translate(1476.39,3427.60) scale(1.0199,1.0300)" style="font-size:75px;font-weight:bold;font-style:normal">(bar)</text>
<text transform="translate(932.02,1773.70) scale(0.9022,1.0120)" style="font-size:87px;font-weight:normal;font-style:normal">(</text>
<text transform="translate(962.93,1773.70) scale(0.9737,1.0120)" style="font-size:87px;font-weight:bold;font-style:normal">b</text>
<text transform="translate(1010.47,1773.70) scale(0.9200,1.0120)" style="font-size:87px;font-weight:normal;font-style:normal">)</text>
<text transform="translate(1058.86,1773.70) scale(1.0902,1.0120)" style="font-size:87px;font-weight:normal;font-style:normal">Torque</text>
<text transform="translate(751.42,3539.60) scale(0.8756,1.0350)" style="font-size:87px;font-weight:normal;font-style:normal">(</text>
<text transform="translate(779.81,3539.60) scale(0.9284,1.0350)" style="font-size:87px;font-weight:bold;font-style:normal">c</text>
<text transform="translate(816.19,3539.60) scale(0.8756,1.0350)" style="font-size:87px;font-weight:normal;font-style:normal">)</text>
<text transform="translate(862.12,3539.60) scale(1.0445,1.0350)" style="font-size:87px;font-weight:normal;font-style:normal">Air</text>
<text transform="translate(1009.52,3539.60) scale(1.0450,1.0350)" style="font-size:87px;font-weight:normal;font-style:normal">tank</text>
<text transform="translate(1189.06,3539.60) scale(1.0913,1.0350)" style="font-size:87px;font-weight:normal;font-style:normal">pressure</text>
</svg>
</body></html>
